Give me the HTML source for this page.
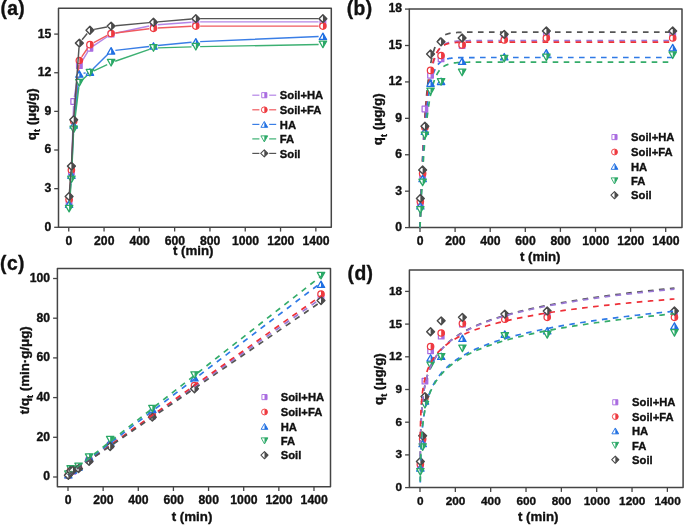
<!DOCTYPE html>
<html><head><meta charset="utf-8"><title>Adsorption kinetics</title>
<style>
html,body{margin:0;padding:0;background:#fff;}
body{width:685px;height:526px;overflow:hidden;font-family:"Liberation Sans",sans-serif;}
svg{display:block;will-change:transform;}
</style></head><body>
<svg width="685" height="526" viewBox="0 0 685 526" font-family='"Liberation Sans", sans-serif' font-weight="bold" fill="#111" stroke-linejoin="round"><style>text{stroke:#111;stroke-width:0.35px;}</style><rect x="58.5" y="8.3" width="272.8" height="219" fill="none" stroke="#444" stroke-width="1.5"/><line x1="68.75" y1="227.3" x2="68.75" y2="231.6" stroke="#444" stroke-width="1.3"/><text x="68.95" y="244.6" font-size="12.2" text-anchor="middle">0</text><line x1="104.05" y1="227.3" x2="104.05" y2="231.6" stroke="#444" stroke-width="1.3"/><text x="104.25" y="244.6" font-size="12.2" text-anchor="middle">200</text><line x1="139.35" y1="227.3" x2="139.35" y2="231.6" stroke="#444" stroke-width="1.3"/><text x="139.55" y="244.6" font-size="12.2" text-anchor="middle">400</text><line x1="174.65" y1="227.3" x2="174.65" y2="231.6" stroke="#444" stroke-width="1.3"/><text x="174.85" y="244.6" font-size="12.2" text-anchor="middle">600</text><line x1="209.95" y1="227.3" x2="209.95" y2="231.6" stroke="#444" stroke-width="1.3"/><text x="210.15" y="244.6" font-size="12.2" text-anchor="middle">800</text><line x1="245.25" y1="227.3" x2="245.25" y2="231.6" stroke="#444" stroke-width="1.3"/><text x="245.45" y="244.6" font-size="12.2" text-anchor="middle">1000</text><line x1="280.55" y1="227.3" x2="280.55" y2="231.6" stroke="#444" stroke-width="1.3"/><text x="280.75" y="244.6" font-size="12.2" text-anchor="middle">1200</text><line x1="315.85" y1="227.3" x2="315.85" y2="231.6" stroke="#444" stroke-width="1.3"/><text x="316.05" y="244.6" font-size="12.2" text-anchor="middle">1400</text><line x1="54.2" y1="227.3" x2="58.5" y2="227.3" stroke="#444" stroke-width="1.3"/><text x="51.2" y="230.7" font-size="12.2" text-anchor="end">0</text><line x1="54.2" y1="188.66" x2="58.5" y2="188.66" stroke="#444" stroke-width="1.3"/><text x="51.2" y="192.06" font-size="12.2" text-anchor="end">3</text><line x1="54.2" y1="150.02" x2="58.5" y2="150.02" stroke="#444" stroke-width="1.3"/><text x="51.2" y="153.42" font-size="12.2" text-anchor="end">6</text><line x1="54.2" y1="111.38" x2="58.5" y2="111.38" stroke="#444" stroke-width="1.3"/><text x="51.2" y="114.78" font-size="12.2" text-anchor="end">9</text><line x1="54.2" y1="72.74" x2="58.5" y2="72.74" stroke="#444" stroke-width="1.3"/><text x="51.2" y="76.14" font-size="12.2" text-anchor="end">12</text><line x1="54.2" y1="34.1" x2="58.5" y2="34.1" stroke="#444" stroke-width="1.3"/><text x="51.2" y="37.5" font-size="12.2" text-anchor="end">15</text><text x="0.4" y="14.5" font-size="19.3" text-anchor="start" letter-spacing="0.4">(a)</text><path d="M69.43 197.9L71.07 176.2M71.54 167.62L73.55 105.76M74.36 97.21L78.67 69.9M81.58 61.98L87.69 51.94M93.5 45.88L107.54 36.49M115.32 33.2L149.26 25.98M157.76 24.76L191.54 22.19M200.13 21.86L318.61 21.86" fill="none" stroke="#b485e6" stroke-width="1.45"/><rect x="66.3" y="199.38" width="5.6" height="5.6" fill="#fff" stroke="#a86ae0" stroke-width="1.25"/><rect x="69.1" y="199.38" width="2.8" height="5.6" fill="#a86ae0"/><rect x="68.6" y="169.12" width="5.6" height="5.6" fill="#fff" stroke="#a86ae0" stroke-width="1.25"/><rect x="71.4" y="169.12" width="2.8" height="5.6" fill="#a86ae0"/><rect x="70.89" y="98.66" width="5.6" height="5.6" fill="#fff" stroke="#a86ae0" stroke-width="1.25"/><rect x="73.69" y="98.66" width="2.8" height="5.6" fill="#a86ae0"/><rect x="76.54" y="62.86" width="5.6" height="5.6" fill="#fff" stroke="#a86ae0" stroke-width="1.25"/><rect x="79.34" y="62.86" width="2.8" height="5.6" fill="#a86ae0"/><rect x="87.13" y="45.47" width="5.6" height="5.6" fill="#fff" stroke="#a86ae0" stroke-width="1.25"/><rect x="89.93" y="45.47" width="2.8" height="5.6" fill="#a86ae0"/><rect x="108.31" y="31.3" width="5.6" height="5.6" fill="#fff" stroke="#a86ae0" stroke-width="1.25"/><rect x="111.11" y="31.3" width="2.8" height="5.6" fill="#a86ae0"/><rect x="150.67" y="22.28" width="5.6" height="5.6" fill="#fff" stroke="#a86ae0" stroke-width="1.25"/><rect x="153.47" y="22.28" width="2.8" height="5.6" fill="#a86ae0"/><rect x="193.03" y="19.06" width="5.6" height="5.6" fill="#fff" stroke="#a86ae0" stroke-width="1.25"/><rect x="195.83" y="19.06" width="2.8" height="5.6" fill="#a86ae0"/><rect x="320.11" y="19.06" width="5.6" height="5.6" fill="#fff" stroke="#a86ae0" stroke-width="1.25"/><rect x="322.91" y="19.06" width="2.8" height="5.6" fill="#a86ae0"/><path d="M69.44 195.32L71.07 174.27M71.6 165.69L73.49 125.34M74.09 116.76L78.94 64.79M81.73 56.93L87.54 48.24M93.73 42.65L107.31 35.47M115.38 32.94L149.2 28.82M157.76 28.08L191.54 26.34M200.13 26.11L318.61 26.11" fill="none" stroke="#f05a5f" stroke-width="1.45"/><circle cx="69.1" cy="199.61" r="3.2" fill="#fff" stroke="#ee3a40" stroke-width="1.25"/><path d="M69.1 196.41A3.2 3.2 0 0 1 69.1 202.81Z" fill="#ee3a40"/><circle cx="71.4" cy="169.98" r="3.2" fill="#fff" stroke="#ee3a40" stroke-width="1.25"/><path d="M71.4 166.78A3.2 3.2 0 0 1 71.4 173.18Z" fill="#ee3a40"/><circle cx="73.69" cy="121.04" r="3.2" fill="#fff" stroke="#ee3a40" stroke-width="1.25"/><path d="M73.69 117.84A3.2 3.2 0 0 1 73.69 124.24Z" fill="#ee3a40"/><circle cx="79.34" cy="60.5" r="3.2" fill="#fff" stroke="#ee3a40" stroke-width="1.25"/><path d="M79.34 57.3A3.2 3.2 0 0 1 79.34 63.7Z" fill="#ee3a40"/><circle cx="89.93" cy="44.66" r="3.2" fill="#fff" stroke="#ee3a40" stroke-width="1.25"/><path d="M89.93 41.46A3.2 3.2 0 0 1 89.93 47.86Z" fill="#ee3a40"/><circle cx="111.11" cy="33.46" r="3.2" fill="#fff" stroke="#ee3a40" stroke-width="1.25"/><path d="M111.11 30.26A3.2 3.2 0 0 1 111.11 36.66Z" fill="#ee3a40"/><circle cx="153.47" cy="28.3" r="3.2" fill="#fff" stroke="#ee3a40" stroke-width="1.25"/><path d="M153.47 25.1A3.2 3.2 0 0 1 153.47 31.5Z" fill="#ee3a40"/><circle cx="195.83" cy="26.11" r="3.2" fill="#fff" stroke="#ee3a40" stroke-width="1.25"/><path d="M195.83 22.91A3.2 3.2 0 0 1 195.83 29.31Z" fill="#ee3a40"/><circle cx="322.91" cy="26.11" r="3.2" fill="#fff" stroke="#ee3a40" stroke-width="1.25"/><path d="M322.91 22.91A3.2 3.2 0 0 1 322.91 29.31Z" fill="#ee3a40"/><path d="M69.44 199.83L71.06 179.42M71.59 170.84L73.5 129.2M74.17 120.63L78.87 78.3M83.57 73.26L85.7 72.87M92.97 69.05L108.07 53.89M115.38 50.35L149.2 46.44M157.75 45.53L191.55 42.24M200.13 41.64L318.61 36.48" fill="none" stroke="#3a7ee6" stroke-width="1.45"/><path d="M65.4 207.32L69.1 200.92L72.8 207.32Z" fill="#fff" stroke="#1f6fe2" stroke-width="1.25" stroke-linejoin="round"/><path d="M69.1 200.92L72.8 207.32L69.1 207.32Z" fill="#1f6fe2"/><path d="M67.7 178.34L71.4 171.94L75.1 178.34Z" fill="#fff" stroke="#1f6fe2" stroke-width="1.25" stroke-linejoin="round"/><path d="M71.4 171.94L75.1 178.34L71.4 178.34Z" fill="#1f6fe2"/><path d="M69.99 128.1L73.69 121.7L77.39 128.1Z" fill="#fff" stroke="#1f6fe2" stroke-width="1.25" stroke-linejoin="round"/><path d="M73.69 121.7L77.39 128.1L73.69 128.1Z" fill="#1f6fe2"/><path d="M75.64 77.23L79.34 70.83L83.04 77.23Z" fill="#fff" stroke="#1f6fe2" stroke-width="1.25" stroke-linejoin="round"/><path d="M79.34 70.83L83.04 77.23L79.34 77.23Z" fill="#1f6fe2"/><path d="M86.23 75.3L89.93 68.9L93.63 75.3Z" fill="#fff" stroke="#1f6fe2" stroke-width="1.25" stroke-linejoin="round"/><path d="M89.93 68.9L93.63 75.3L89.93 75.3Z" fill="#1f6fe2"/><path d="M107.41 54.04L111.11 47.64L114.81 54.04Z" fill="#fff" stroke="#1f6fe2" stroke-width="1.25" stroke-linejoin="round"/><path d="M111.11 47.64L114.81 54.04L111.11 54.04Z" fill="#1f6fe2"/><path d="M149.77 49.15L153.47 42.75L157.17 49.15Z" fill="#fff" stroke="#1f6fe2" stroke-width="1.25" stroke-linejoin="round"/><path d="M153.47 42.75L157.17 49.15L153.47 49.15Z" fill="#1f6fe2"/><path d="M192.13 45.03L195.83 38.63L199.53 45.03Z" fill="#fff" stroke="#1f6fe2" stroke-width="1.25" stroke-linejoin="round"/><path d="M195.83 38.63L199.53 45.03L195.83 45.03Z" fill="#1f6fe2"/><path d="M319.21 39.49L322.91 33.09L326.61 39.49Z" fill="#fff" stroke="#1f6fe2" stroke-width="1.25" stroke-linejoin="round"/><path d="M322.91 33.09L326.61 39.49L322.91 39.49Z" fill="#1f6fe2"/><path d="M69.44 204.34L71.06 183.67M71.59 175.09L73.49 133.71M74.21 125.14L78.82 87.06M82.46 79.83L86.81 75.7M93.82 70.9L107.22 64.54M115.17 61.29L149.41 49.42M157.77 47.88L191.53 46.85M200.13 46.64L318.61 44.48" fill="none" stroke="#3cb072" stroke-width="1.45"/><path d="M65.4 205.32L69.1 211.92L72.8 205.32Z" fill="#fff" stroke="#2aa866" stroke-width="1.25" stroke-linejoin="round"/><path d="M69.1 211.92L72.8 205.32L69.1 205.32Z" fill="#2aa866"/><path d="M67.7 176.09L71.4 182.69L75.1 176.09Z" fill="#fff" stroke="#2aa866" stroke-width="1.25" stroke-linejoin="round"/><path d="M71.4 182.69L75.1 176.09L71.4 176.09Z" fill="#2aa866"/><path d="M69.99 126.11L73.69 132.71L77.39 126.11Z" fill="#fff" stroke="#2aa866" stroke-width="1.25" stroke-linejoin="round"/><path d="M73.69 132.71L77.39 126.11L73.69 126.11Z" fill="#2aa866"/><path d="M75.64 79.49L79.34 86.09L83.04 79.49Z" fill="#fff" stroke="#2aa866" stroke-width="1.25" stroke-linejoin="round"/><path d="M79.34 86.09L83.04 79.49L79.34 79.49Z" fill="#2aa866"/><path d="M86.23 69.44L89.93 76.04L93.63 69.44Z" fill="#fff" stroke="#2aa866" stroke-width="1.25" stroke-linejoin="round"/><path d="M89.93 76.04L93.63 69.44L89.93 69.44Z" fill="#2aa866"/><path d="M107.41 59.39L111.11 65.99L114.81 59.39Z" fill="#fff" stroke="#2aa866" stroke-width="1.25" stroke-linejoin="round"/><path d="M111.11 65.99L114.81 59.39L111.11 59.39Z" fill="#2aa866"/><path d="M149.77 44.71L153.47 51.31L157.17 44.71Z" fill="#fff" stroke="#2aa866" stroke-width="1.25" stroke-linejoin="round"/><path d="M153.47 51.31L157.17 44.71L153.47 44.71Z" fill="#2aa866"/><path d="M192.13 43.42L195.83 50.02L199.53 43.42Z" fill="#fff" stroke="#2aa866" stroke-width="1.25" stroke-linejoin="round"/><path d="M195.83 50.02L199.53 43.42L195.83 43.42Z" fill="#2aa866"/><path d="M319.21 41.1L322.91 47.7L326.61 41.1Z" fill="#fff" stroke="#2aa866" stroke-width="1.25" stroke-linejoin="round"/><path d="M322.91 47.7L326.61 41.1L322.91 41.1Z" fill="#2aa866"/><path d="M69.43 192.1L71.07 170.41M71.61 161.83L73.48 124.05M74.01 115.46L79.02 47.4M82.07 39.79L87.2 33.56M94.15 29.41L106.89 26.94M115.39 25.72L149.19 22.64M157.75 21.89L191.55 19.01M200.13 18.64L318.61 18.64" fill="none" stroke="#555555" stroke-width="1.45"/><path d="M69.1 192.49L73 196.39L69.1 200.29L65.2 196.39Z" fill="#fff" stroke="#4a4a4a" stroke-width="1.4375" stroke-linejoin="round"/><path d="M69.1 192.49L73 196.39L69.1 200.29Z" fill="#4a4a4a"/><path d="M71.4 162.22L75.3 166.12L71.4 170.02L67.5 166.12Z" fill="#fff" stroke="#4a4a4a" stroke-width="1.4375" stroke-linejoin="round"/><path d="M71.4 162.22L75.3 166.12L71.4 170.02Z" fill="#4a4a4a"/><path d="M73.69 115.85L77.59 119.75L73.69 123.65L69.79 119.75Z" fill="#fff" stroke="#4a4a4a" stroke-width="1.4375" stroke-linejoin="round"/><path d="M73.69 115.85L77.59 119.75L73.69 123.65Z" fill="#4a4a4a"/><path d="M79.34 39.22L83.24 43.12L79.34 47.02L75.44 43.12Z" fill="#fff" stroke="#4a4a4a" stroke-width="1.4375" stroke-linejoin="round"/><path d="M79.34 39.22L83.24 43.12L79.34 47.02Z" fill="#4a4a4a"/><path d="M89.93 26.34L93.83 30.24L89.93 34.14L86.03 30.24Z" fill="#fff" stroke="#4a4a4a" stroke-width="1.4375" stroke-linejoin="round"/><path d="M89.93 26.34L93.83 30.24L89.93 34.14Z" fill="#4a4a4a"/><path d="M111.11 22.21L115.01 26.11L111.11 30.01L107.21 26.11Z" fill="#fff" stroke="#4a4a4a" stroke-width="1.4375" stroke-linejoin="round"/><path d="M111.11 22.21L115.01 26.11L111.11 30.01Z" fill="#4a4a4a"/><path d="M153.47 18.35L157.37 22.25L153.47 26.15L149.57 22.25Z" fill="#fff" stroke="#4a4a4a" stroke-width="1.4375" stroke-linejoin="round"/><path d="M153.47 18.35L157.37 22.25L153.47 26.15Z" fill="#4a4a4a"/><path d="M195.83 14.74L199.73 18.64L195.83 22.54L191.93 18.64Z" fill="#fff" stroke="#4a4a4a" stroke-width="1.4375" stroke-linejoin="round"/><path d="M195.83 14.74L199.73 18.64L195.83 22.54Z" fill="#4a4a4a"/><path d="M322.91 14.74L326.81 18.64L322.91 22.54L319.01 18.64Z" fill="#fff" stroke="#4a4a4a" stroke-width="1.4375" stroke-linejoin="round"/><path d="M322.91 14.74L326.81 18.64L322.91 22.54Z" fill="#4a4a4a"/><line x1="252.3" y1="95.2" x2="259.4" y2="95.2" stroke="#b485e6" stroke-width="1.2"/><line x1="269.2" y1="95.2" x2="276.2" y2="95.2" stroke="#b485e6" stroke-width="1.2"/><rect x="261.72" y="92.62" width="5.15" height="5.15" fill="#fff" stroke="#a86ae0" stroke-width="0.9"/><rect x="264.3" y="92.62" width="2.58" height="5.15" fill="#a86ae0"/><text x="279.8" y="99.3" font-size="11.25" text-anchor="start">Soil+HA</text><line x1="252.3" y1="109.8" x2="259.4" y2="109.8" stroke="#f05a5f" stroke-width="1.2"/><line x1="269.2" y1="109.8" x2="276.2" y2="109.8" stroke="#f05a5f" stroke-width="1.2"/><circle cx="264.3" cy="109.8" r="2.94" fill="#fff" stroke="#ee3a40" stroke-width="0.9"/><path d="M264.3 106.86A2.94 2.94 0 0 1 264.3 112.74Z" fill="#ee3a40"/><text x="279.8" y="113.9" font-size="11.25" text-anchor="start">Soil+FA</text><line x1="252.3" y1="124.4" x2="259.4" y2="124.4" stroke="#3a7ee6" stroke-width="1.2"/><line x1="269.2" y1="124.4" x2="276.2" y2="124.4" stroke="#3a7ee6" stroke-width="1.2"/><path d="M260.9 127.34L264.3 121.46L267.7 127.34Z" fill="#fff" stroke="#1f6fe2" stroke-width="0.9" stroke-linejoin="round"/><path d="M264.3 121.46L267.7 127.34L264.3 127.34Z" fill="#1f6fe2"/><text x="279.8" y="128.5" font-size="11.25" text-anchor="start">HA</text><line x1="252.3" y1="138.9" x2="259.4" y2="138.9" stroke="#3cb072" stroke-width="1.2"/><line x1="269.2" y1="138.9" x2="276.2" y2="138.9" stroke="#3cb072" stroke-width="1.2"/><path d="M260.9 135.86L264.3 141.94L267.7 135.86Z" fill="#fff" stroke="#2aa866" stroke-width="0.9" stroke-linejoin="round"/><path d="M264.3 141.94L267.7 135.86L264.3 135.86Z" fill="#2aa866"/><text x="279.8" y="143" font-size="11.25" text-anchor="start">FA</text><line x1="252.3" y1="153.4" x2="259.4" y2="153.4" stroke="#555555" stroke-width="1.2"/><line x1="269.2" y1="153.4" x2="276.2" y2="153.4" stroke="#555555" stroke-width="1.2"/><path d="M264.3 149.81L267.89 153.4L264.3 156.99L260.71 153.4Z" fill="#fff" stroke="#4a4a4a" stroke-width="1.035" stroke-linejoin="round"/><path d="M264.3 149.81L267.89 153.4L264.3 156.99Z" fill="#4a4a4a"/><text x="279.8" y="157.5" font-size="11.25" text-anchor="start">Soil</text><text x="193.2" y="255.3" font-size="13.3" text-anchor="middle">t (min)</text><text transform="translate(36.1 114.3) rotate(-90)" font-size="13.3" text-anchor="middle">q<tspan font-size="9" dy="4.2">t</tspan><tspan dy="-4.2"> (μg/g)</tspan></text><rect x="409.3" y="9" width="272.7" height="218.6" fill="none" stroke="#444" stroke-width="1.5"/><line x1="420" y1="227.6" x2="420" y2="231.9" stroke="#444" stroke-width="1.3"/><text x="420.2" y="244.9" font-size="12.2" text-anchor="middle">0</text><line x1="455.1" y1="227.6" x2="455.1" y2="231.9" stroke="#444" stroke-width="1.3"/><text x="455.3" y="244.9" font-size="12.2" text-anchor="middle">200</text><line x1="490.2" y1="227.6" x2="490.2" y2="231.9" stroke="#444" stroke-width="1.3"/><text x="490.4" y="244.9" font-size="12.2" text-anchor="middle">400</text><line x1="525.3" y1="227.6" x2="525.3" y2="231.9" stroke="#444" stroke-width="1.3"/><text x="525.5" y="244.9" font-size="12.2" text-anchor="middle">600</text><line x1="560.4" y1="227.6" x2="560.4" y2="231.9" stroke="#444" stroke-width="1.3"/><text x="560.6" y="244.9" font-size="12.2" text-anchor="middle">800</text><line x1="595.5" y1="227.6" x2="595.5" y2="231.9" stroke="#444" stroke-width="1.3"/><text x="595.7" y="244.9" font-size="12.2" text-anchor="middle">1000</text><line x1="630.6" y1="227.6" x2="630.6" y2="231.9" stroke="#444" stroke-width="1.3"/><text x="630.8" y="244.9" font-size="12.2" text-anchor="middle">1200</text><line x1="665.7" y1="227.6" x2="665.7" y2="231.9" stroke="#444" stroke-width="1.3"/><text x="665.9" y="244.9" font-size="12.2" text-anchor="middle">1400</text><line x1="405" y1="227.6" x2="409.3" y2="227.6" stroke="#444" stroke-width="1.3"/><text x="402" y="231" font-size="12.2" text-anchor="end">0</text><line x1="405" y1="191.18" x2="409.3" y2="191.18" stroke="#444" stroke-width="1.3"/><text x="402" y="194.58" font-size="12.2" text-anchor="end">3</text><line x1="405" y1="154.76" x2="409.3" y2="154.76" stroke="#444" stroke-width="1.3"/><text x="402" y="158.16" font-size="12.2" text-anchor="end">6</text><line x1="405" y1="118.34" x2="409.3" y2="118.34" stroke="#444" stroke-width="1.3"/><text x="402" y="121.74" font-size="12.2" text-anchor="end">9</text><line x1="405" y1="81.92" x2="409.3" y2="81.92" stroke="#444" stroke-width="1.3"/><text x="402" y="85.32" font-size="12.2" text-anchor="end">12</text><line x1="405" y1="45.5" x2="409.3" y2="45.5" stroke="#444" stroke-width="1.3"/><text x="402" y="48.9" font-size="12.2" text-anchor="end">15</text><line x1="405" y1="9.08" x2="409.3" y2="9.08" stroke="#444" stroke-width="1.3"/><text x="402" y="12.48" font-size="12.2" text-anchor="end">18</text><text x="346.7" y="15.3" font-size="19.3" text-anchor="start" letter-spacing="0.4">(b)</text><path d="M420 227.6 L420.35 216.22 L420.7 205.5 L421.05 195.4 L421.4 185.9 L421.75 176.94 L422.11 168.51 L422.46 160.57 L422.81 153.09 L423.16 146.05 L423.51 139.41 L423.86 133.17 L424.21 127.28 L424.56 121.74 L424.91 116.53 L425.26 111.61 L425.62 106.98 L425.97 102.63 L426.32 98.52 L426.67 94.66 L427.02 91.02 L427.37 87.59 L427.72 84.36 L428.07 81.32 L428.42 78.45 L428.77 75.76 L429.13 73.22 L429.48 70.83 L429.83 68.57 L430.18 66.45 L430.53 64.45 L430.88 62.57 L431.23 60.8 L431.58 59.13 L431.93 57.56 L432.29 56.08 L432.64 54.69 L432.99 53.37 L433.34 52.14 L433.69 50.97 L434.04 49.88 L434.39 48.84 L434.74 47.87 L435.09 46.96 L435.44 46.09 L435.8 45.28 L436.15 44.52 L436.5 43.8 L436.85 43.12 L437.2 42.48 L437.55 41.88 L437.9 41.31 L438.25 40.78 L438.6 40.27 L438.95 39.8 L439.31 39.35 L439.66 38.94 L440.01 38.54 L440.36 38.17 L440.71 37.82 L441.06 37.49 L441.41 37.18 L441.76 36.88 L442.11 36.61 L442.46 36.35 L442.81 36.1 L443.17 35.87 L443.52 35.65 L443.87 35.45 L444.22 35.26 L444.57 35.08 L444.92 34.91 L445.27 34.75 L445.62 34.59 L445.97 34.45 L446.32 34.32 L446.68 34.19 L447.03 34.07 L447.38 33.96 L447.73 33.85 L448.08 33.75 L448.43 33.66 L448.78 33.57 L449.13 33.49 L449.48 33.41 L449.83 33.34 L450.19 33.27 L450.54 33.2 L450.89 33.14 L451.24 33.08 L451.59 33.03 L451.94 32.98 L452.29 32.93 L452.64 32.88 L452.99 32.84 L453.35 32.8 L453.7 32.76 L454.05 32.73 L454.4 32.69 L454.75 32.66 L455.1 32.63 L455.45 32.6 L455.8 32.58 L456.15 32.55 L456.5 32.53 L456.86 32.5 L457.21 32.48 L457.56 32.46 L457.91 32.45 L458.26 32.43 L458.61 32.41 L458.96 32.4 L459.31 32.38 L459.66 32.37 L460.01 32.36 L460.37 32.34 L460.72 32.33 L461.07 32.32 L461.42 32.31 L461.77 32.3 L462.12 32.29 L462.47 32.28 L462.82 32.28 L463.17 32.27 L463.52 32.26 L463.88 32.25 L464.23 32.25 L464.58 32.24 L464.93 32.24 L465.28 32.23 L465.63 32.23 L465.98 32.22 L466.33 32.22 L466.68 32.21 L467.03 32.21 L467.38 32.21 L467.74 32.2 L468.09 32.2 L468.44 32.2 L468.79 32.19 L469.14 32.19 L469.49 32.19 L469.84 32.18 L470.19 32.18 L470.54 32.18 L470.89 32.18 L471.25 32.18 L471.6 32.17 L471.95 32.17 L472.3 32.17 L472.65 32.17 L476.16 32.16 L479.67 32.15 L483.18 32.15 L486.69 32.15 L490.2 32.15 L493.71 32.15 L497.22 32.15 L500.73 32.15 L504.24 32.15 L507.75 32.15 L511.26 32.15 L514.77 32.15 L518.28 32.15 L521.79 32.15 L525.3 32.15 L528.81 32.15 L532.32 32.15 L535.83 32.15 L539.34 32.15 L542.85 32.15 L546.36 32.15 L549.87 32.15 L553.38 32.15 L556.89 32.15 L560.4 32.15 L563.91 32.15 L567.42 32.15 L570.93 32.15 L574.44 32.15 L577.95 32.15 L581.46 32.15 L584.97 32.15 L588.48 32.15 L591.99 32.15 L595.5 32.15 L599.01 32.15 L602.52 32.15 L606.03 32.15 L609.54 32.15 L613.05 32.15 L616.56 32.15 L620.07 32.15 L623.58 32.15 L627.09 32.15 L630.6 32.15 L634.11 32.15 L637.62 32.15 L641.13 32.15 L644.64 32.15 L648.15 32.15 L651.66 32.15 L655.17 32.15 L658.68 32.15 L662.19 32.15 L665.7 32.15 L669.21 32.15 L672.72 32.15" fill="none" stroke="#555555" stroke-width="1.7" stroke-dasharray="5.6 5.4"/><path d="M420 227.6 L420.35 217.42 L420.7 207.79 L421.05 198.69 L421.4 190.08 L421.75 181.94 L422.11 174.25 L422.46 166.97 L422.81 160.09 L423.16 153.59 L423.51 147.43 L423.86 141.62 L424.21 136.12 L424.56 130.92 L424.91 126 L425.26 121.35 L425.62 116.96 L425.97 112.8 L426.32 108.87 L426.67 105.16 L427.02 101.64 L427.37 98.32 L427.72 95.18 L428.07 92.21 L428.42 89.4 L428.77 86.75 L429.13 84.24 L429.48 81.86 L429.83 79.62 L430.18 77.49 L430.53 75.49 L430.88 73.59 L431.23 71.8 L431.58 70.1 L431.93 68.5 L432.29 66.98 L432.64 65.54 L432.99 64.19 L433.34 62.91 L433.69 61.69 L434.04 60.55 L434.39 59.46 L434.74 58.44 L435.09 57.47 L435.44 56.55 L435.8 55.69 L436.15 54.87 L436.5 54.09 L436.85 53.36 L437.2 52.67 L437.55 52.01 L437.9 51.39 L438.25 50.81 L438.6 50.25 L438.95 49.73 L439.31 49.24 L439.66 48.77 L440.01 48.33 L440.36 47.91 L440.71 47.51 L441.06 47.14 L441.41 46.78 L441.76 46.45 L442.11 46.13 L442.46 45.83 L442.81 45.55 L443.17 45.28 L443.52 45.03 L443.87 44.79 L444.22 44.57 L444.57 44.35 L444.92 44.15 L445.27 43.96 L445.62 43.78 L445.97 43.61 L446.32 43.45 L446.68 43.29 L447.03 43.15 L447.38 43.01 L447.73 42.88 L448.08 42.76 L448.43 42.65 L448.78 42.54 L449.13 42.44 L449.48 42.34 L449.83 42.25 L450.19 42.16 L450.54 42.08 L450.89 42 L451.24 41.92 L451.59 41.85 L451.94 41.79 L452.29 41.73 L452.64 41.67 L452.99 41.61 L453.35 41.56 L453.7 41.51 L454.05 41.46 L454.4 41.42 L454.75 41.38 L455.1 41.34 L455.45 41.3 L455.8 41.26 L456.15 41.23 L456.5 41.2 L456.86 41.17 L457.21 41.14 L457.56 41.11 L457.91 41.09 L458.26 41.06 L458.61 41.04 L458.96 41.02 L459.31 41 L459.66 40.98 L460.01 40.96 L460.37 40.94 L460.72 40.93 L461.07 40.91 L461.42 40.9 L461.77 40.88 L462.12 40.87 L462.47 40.86 L462.82 40.85 L463.17 40.83 L463.52 40.82 L463.88 40.81 L464.23 40.81 L464.58 40.8 L464.93 40.79 L465.28 40.78 L465.63 40.77 L465.98 40.77 L466.33 40.76 L466.68 40.75 L467.03 40.75 L467.38 40.74 L467.74 40.74 L468.09 40.73 L468.44 40.73 L468.79 40.72 L469.14 40.72 L469.49 40.71 L469.84 40.71 L470.19 40.71 L470.54 40.7 L470.89 40.7 L471.25 40.7 L471.6 40.69 L471.95 40.69 L472.3 40.69 L472.65 40.69 L476.16 40.67 L479.67 40.66 L483.18 40.65 L486.69 40.65 L490.2 40.65 L493.71 40.65 L497.22 40.64 L500.73 40.64 L504.24 40.64 L507.75 40.64 L511.26 40.64 L514.77 40.64 L518.28 40.64 L521.79 40.64 L525.3 40.64 L528.81 40.64 L532.32 40.64 L535.83 40.64 L539.34 40.64 L542.85 40.64 L546.36 40.64 L549.87 40.64 L553.38 40.64 L556.89 40.64 L560.4 40.64 L563.91 40.64 L567.42 40.64 L570.93 40.64 L574.44 40.64 L577.95 40.64 L581.46 40.64 L584.97 40.64 L588.48 40.64 L591.99 40.64 L595.5 40.64 L599.01 40.64 L602.52 40.64 L606.03 40.64 L609.54 40.64 L613.05 40.64 L616.56 40.64 L620.07 40.64 L623.58 40.64 L627.09 40.64 L630.6 40.64 L634.11 40.64 L637.62 40.64 L641.13 40.64 L644.64 40.64 L648.15 40.64 L651.66 40.64 L655.17 40.64 L658.68 40.64 L662.19 40.64 L665.7 40.64 L669.21 40.64 L672.72 40.64" fill="none" stroke="#9a78d6" stroke-width="1.7" stroke-dasharray="5.6 5.4"/><path d="M420 227.6 L420.35 216.8 L420.7 206.62 L421.05 197.04 L421.4 188.02 L421.75 179.52 L422.11 171.52 L422.46 163.98 L422.81 156.88 L423.16 150.2 L423.51 143.9 L423.86 137.98 L424.21 132.39 L424.56 127.13 L424.91 122.18 L425.26 117.52 L425.62 113.13 L425.97 108.99 L426.32 105.1 L426.67 101.43 L427.02 97.97 L427.37 94.72 L427.72 91.65 L428.07 88.77 L428.42 86.05 L428.77 83.49 L429.13 81.08 L429.48 78.81 L429.83 76.67 L430.18 74.66 L430.53 72.76 L430.88 70.98 L431.23 69.3 L431.58 67.71 L431.93 66.22 L432.29 64.82 L432.64 63.49 L432.99 62.25 L433.34 61.07 L433.69 59.97 L434.04 58.93 L434.39 57.95 L434.74 57.03 L435.09 56.16 L435.44 55.34 L435.8 54.57 L436.15 53.84 L436.5 53.16 L436.85 52.51 L437.2 51.91 L437.55 51.34 L437.9 50.8 L438.25 50.29 L438.6 49.81 L438.95 49.37 L439.31 48.94 L439.66 48.54 L440.01 48.17 L440.36 47.82 L440.71 47.48 L441.06 47.17 L441.41 46.87 L441.76 46.6 L442.11 46.33 L442.46 46.09 L442.81 45.86 L443.17 45.64 L443.52 45.43 L443.87 45.24 L444.22 45.05 L444.57 44.88 L444.92 44.72 L445.27 44.57 L445.62 44.42 L445.97 44.29 L446.32 44.16 L446.68 44.04 L447.03 43.93 L447.38 43.82 L447.73 43.72 L448.08 43.63 L448.43 43.54 L448.78 43.45 L449.13 43.38 L449.48 43.3 L449.83 43.23 L450.19 43.17 L450.54 43.1 L450.89 43.05 L451.24 42.99 L451.59 42.94 L451.94 42.89 L452.29 42.84 L452.64 42.8 L452.99 42.76 L453.35 42.72 L453.7 42.69 L454.05 42.65 L454.4 42.62 L454.75 42.59 L455.1 42.56 L455.45 42.53 L455.8 42.51 L456.15 42.48 L456.5 42.46 L456.86 42.44 L457.21 42.42 L457.56 42.4 L457.91 42.39 L458.26 42.37 L458.61 42.35 L458.96 42.34 L459.31 42.32 L459.66 42.31 L460.01 42.3 L460.37 42.29 L460.72 42.28 L461.07 42.27 L461.42 42.26 L461.77 42.25 L462.12 42.24 L462.47 42.23 L462.82 42.22 L463.17 42.22 L463.52 42.21 L463.88 42.2 L464.23 42.2 L464.58 42.19 L464.93 42.19 L465.28 42.18 L465.63 42.18 L465.98 42.17 L466.33 42.17 L466.68 42.16 L467.03 42.16 L467.38 42.16 L467.74 42.15 L468.09 42.15 L468.44 42.15 L468.79 42.15 L469.14 42.14 L469.49 42.14 L469.84 42.14 L470.19 42.14 L470.54 42.13 L470.89 42.13 L471.25 42.13 L471.6 42.13 L471.95 42.13 L472.3 42.13 L472.65 42.12 L476.16 42.11 L479.67 42.11 L483.18 42.1 L486.69 42.1 L490.2 42.1 L493.71 42.1 L497.22 42.1 L500.73 42.1 L504.24 42.1 L507.75 42.1 L511.26 42.1 L514.77 42.1 L518.28 42.1 L521.79 42.1 L525.3 42.1 L528.81 42.1 L532.32 42.1 L535.83 42.1 L539.34 42.1 L542.85 42.1 L546.36 42.1 L549.87 42.1 L553.38 42.1 L556.89 42.1 L560.4 42.1 L563.91 42.1 L567.42 42.1 L570.93 42.1 L574.44 42.1 L577.95 42.1 L581.46 42.1 L584.97 42.1 L588.48 42.1 L591.99 42.1 L595.5 42.1 L599.01 42.1 L602.52 42.1 L606.03 42.1 L609.54 42.1 L613.05 42.1 L616.56 42.1 L620.07 42.1 L623.58 42.1 L627.09 42.1 L630.6 42.1 L634.11 42.1 L637.62 42.1 L641.13 42.1 L644.64 42.1 L648.15 42.1 L651.66 42.1 L655.17 42.1 L658.68 42.1 L662.19 42.1 L665.7 42.1 L669.21 42.1 L672.72 42.1" fill="none" stroke="#ee3038" stroke-width="1.7" stroke-dasharray="5.6 5.4"/><path d="M420 227.6 L420.35 217.38 L420.7 207.77 L421.05 198.73 L421.4 190.24 L421.75 182.26 L422.11 174.76 L422.46 167.72 L422.81 161.09 L423.16 154.87 L423.51 149.01 L423.86 143.51 L424.21 138.34 L424.56 133.48 L424.91 128.92 L425.26 124.62 L425.62 120.59 L425.97 116.8 L426.32 113.24 L426.67 109.89 L427.02 106.74 L427.37 103.78 L427.72 101 L428.07 98.38 L428.42 95.93 L428.77 93.62 L429.13 91.45 L429.48 89.41 L429.83 87.49 L430.18 85.69 L430.53 84 L430.88 82.4 L431.23 80.91 L431.58 79.5 L431.93 78.18 L432.29 76.94 L432.64 75.77 L432.99 74.67 L433.34 73.64 L433.69 72.67 L434.04 71.76 L434.39 70.91 L434.74 70.1 L435.09 69.34 L435.44 68.63 L435.8 67.97 L436.15 67.34 L436.5 66.75 L436.85 66.19 L437.2 65.67 L437.55 65.18 L437.9 64.72 L438.25 64.29 L438.6 63.88 L438.95 63.5 L439.31 63.14 L439.66 62.8 L440.01 62.48 L440.36 62.18 L440.71 61.9 L441.06 61.64 L441.41 61.39 L441.76 61.16 L442.11 60.94 L442.46 60.74 L442.81 60.54 L443.17 60.36 L443.52 60.19 L443.87 60.03 L444.22 59.88 L444.57 59.74 L444.92 59.6 L445.27 59.48 L445.62 59.36 L445.97 59.25 L446.32 59.14 L446.68 59.05 L447.03 58.96 L447.38 58.87 L447.73 58.79 L448.08 58.71 L448.43 58.64 L448.78 58.57 L449.13 58.51 L449.48 58.45 L449.83 58.39 L450.19 58.34 L450.54 58.29 L450.89 58.24 L451.24 58.2 L451.59 58.16 L451.94 58.12 L452.29 58.09 L452.64 58.05 L452.99 58.02 L453.35 57.99 L453.7 57.96 L454.05 57.93 L454.4 57.91 L454.75 57.89 L455.1 57.86 L455.45 57.84 L455.8 57.82 L456.15 57.81 L456.5 57.79 L456.86 57.77 L457.21 57.76 L457.56 57.74 L457.91 57.73 L458.26 57.72 L458.61 57.7 L458.96 57.69 L459.31 57.68 L459.66 57.67 L460.01 57.66 L460.37 57.65 L460.72 57.65 L461.07 57.64 L461.42 57.63 L461.77 57.62 L462.12 57.62 L462.47 57.61 L462.82 57.61 L463.17 57.6 L463.52 57.6 L463.88 57.59 L464.23 57.59 L464.58 57.58 L464.93 57.58 L465.28 57.58 L465.63 57.57 L465.98 57.57 L466.33 57.57 L466.68 57.56 L467.03 57.56 L467.38 57.56 L467.74 57.56 L468.09 57.55 L468.44 57.55 L468.79 57.55 L469.14 57.55 L469.49 57.55 L469.84 57.54 L470.19 57.54 L470.54 57.54 L470.89 57.54 L471.25 57.54 L471.6 57.54 L471.95 57.54 L472.3 57.54 L472.65 57.53 L476.16 57.53 L479.67 57.52 L483.18 57.52 L486.69 57.52 L490.2 57.52 L493.71 57.52 L497.22 57.52 L500.73 57.52 L504.24 57.52 L507.75 57.52 L511.26 57.52 L514.77 57.52 L518.28 57.52 L521.79 57.52 L525.3 57.52 L528.81 57.52 L532.32 57.52 L535.83 57.52 L539.34 57.52 L542.85 57.52 L546.36 57.52 L549.87 57.52 L553.38 57.52 L556.89 57.52 L560.4 57.52 L563.91 57.52 L567.42 57.52 L570.93 57.52 L574.44 57.52 L577.95 57.52 L581.46 57.52 L584.97 57.52 L588.48 57.52 L591.99 57.52 L595.5 57.52 L599.01 57.52 L602.52 57.52 L606.03 57.52 L609.54 57.52 L613.05 57.52 L616.56 57.52 L620.07 57.52 L623.58 57.52 L627.09 57.52 L630.6 57.52 L634.11 57.52 L637.62 57.52 L641.13 57.52 L644.64 57.52 L648.15 57.52 L651.66 57.52 L655.17 57.52 L658.68 57.52 L662.19 57.52 L665.7 57.52 L669.21 57.52 L672.72 57.52" fill="none" stroke="#2f7ae6" stroke-width="1.7" stroke-dasharray="5.6 5.4"/><path d="M420 227.6 L420.35 218.9 L420.7 210.66 L421.05 202.85 L421.4 195.46 L421.75 188.45 L422.11 181.81 L422.46 175.52 L422.81 169.56 L423.16 163.91 L423.51 158.56 L423.86 153.49 L424.21 148.69 L424.56 144.14 L424.91 139.83 L425.26 135.74 L425.62 131.87 L425.97 128.21 L426.32 124.73 L426.67 121.44 L427.02 118.32 L427.37 115.37 L427.72 112.57 L428.07 109.92 L428.42 107.41 L428.77 105.03 L429.13 102.77 L429.48 100.64 L429.83 98.61 L430.18 96.69 L430.53 94.88 L430.88 93.16 L431.23 91.53 L431.58 89.98 L431.93 88.52 L432.29 87.13 L432.64 85.82 L432.99 84.57 L433.34 83.39 L433.69 82.27 L434.04 81.21 L434.39 80.21 L434.74 79.26 L435.09 78.36 L435.44 77.51 L435.8 76.7 L436.15 75.93 L436.5 75.21 L436.85 74.52 L437.2 73.87 L437.55 73.25 L437.9 72.67 L438.25 72.11 L438.6 71.59 L438.95 71.09 L439.31 70.62 L439.66 70.17 L440.01 69.75 L440.36 69.35 L440.71 68.97 L441.06 68.61 L441.41 68.27 L441.76 67.95 L442.11 67.64 L442.46 67.35 L442.81 67.08 L443.17 66.82 L443.52 66.57 L443.87 66.34 L444.22 66.12 L444.57 65.91 L444.92 65.71 L445.27 65.52 L445.62 65.34 L445.97 65.17 L446.32 65.01 L446.68 64.86 L447.03 64.72 L447.38 64.58 L447.73 64.45 L448.08 64.33 L448.43 64.22 L448.78 64.11 L449.13 64 L449.48 63.9 L449.83 63.81 L450.19 63.72 L450.54 63.64 L450.89 63.56 L451.24 63.49 L451.59 63.41 L451.94 63.35 L452.29 63.28 L452.64 63.22 L452.99 63.17 L453.35 63.11 L453.7 63.06 L454.05 63.01 L454.4 62.96 L454.75 62.92 L455.1 62.88 L455.45 62.84 L455.8 62.8 L456.15 62.77 L456.5 62.73 L456.86 62.7 L457.21 62.67 L457.56 62.64 L457.91 62.62 L458.26 62.59 L458.61 62.57 L458.96 62.54 L459.31 62.52 L459.66 62.5 L460.01 62.48 L460.37 62.46 L460.72 62.45 L461.07 62.43 L461.42 62.41 L461.77 62.4 L462.12 62.39 L462.47 62.37 L462.82 62.36 L463.17 62.35 L463.52 62.34 L463.88 62.33 L464.23 62.32 L464.58 62.31 L464.93 62.3 L465.28 62.29 L465.63 62.28 L465.98 62.27 L466.33 62.26 L466.68 62.26 L467.03 62.25 L467.38 62.24 L467.74 62.24 L468.09 62.23 L468.44 62.23 L468.79 62.22 L469.14 62.22 L469.49 62.21 L469.84 62.21 L470.19 62.21 L470.54 62.2 L470.89 62.2 L471.25 62.19 L471.6 62.19 L471.95 62.19 L472.3 62.18 L472.65 62.18 L476.16 62.16 L479.67 62.15 L483.18 62.14 L486.69 62.14 L490.2 62.14 L493.71 62.13 L497.22 62.13 L500.73 62.13 L504.24 62.13 L507.75 62.13 L511.26 62.13 L514.77 62.13 L518.28 62.13 L521.79 62.13 L525.3 62.13 L528.81 62.13 L532.32 62.13 L535.83 62.13 L539.34 62.13 L542.85 62.13 L546.36 62.13 L549.87 62.13 L553.38 62.13 L556.89 62.13 L560.4 62.13 L563.91 62.13 L567.42 62.13 L570.93 62.13 L574.44 62.13 L577.95 62.13 L581.46 62.13 L584.97 62.13 L588.48 62.13 L591.99 62.13 L595.5 62.13 L599.01 62.13 L602.52 62.13 L606.03 62.13 L609.54 62.13 L613.05 62.13 L616.56 62.13 L620.07 62.13 L623.58 62.13 L627.09 62.13 L630.6 62.13 L634.11 62.13 L637.62 62.13 L641.13 62.13 L644.64 62.13 L648.15 62.13 L651.66 62.13 L655.17 62.13 L658.68 62.13 L662.19 62.13 L665.7 62.13 L669.21 62.13 L672.72 62.13" fill="none" stroke="#34ac6a" stroke-width="1.7" stroke-dasharray="5.6 5.4"/><rect x="417.55" y="201.13" width="5.6" height="5.6" fill="#fff" stroke="#a86ae0" stroke-width="1.25"/><rect x="420.35" y="201.13" width="2.8" height="5.6" fill="#a86ae0"/><rect x="419.83" y="172.6" width="5.6" height="5.6" fill="#fff" stroke="#a86ae0" stroke-width="1.25"/><rect x="422.63" y="172.6" width="2.8" height="5.6" fill="#a86ae0"/><rect x="422.11" y="106.19" width="5.6" height="5.6" fill="#fff" stroke="#a86ae0" stroke-width="1.25"/><rect x="424.91" y="106.19" width="2.8" height="5.6" fill="#a86ae0"/><rect x="427.73" y="72.44" width="5.6" height="5.6" fill="#fff" stroke="#a86ae0" stroke-width="1.25"/><rect x="430.53" y="72.44" width="2.8" height="5.6" fill="#a86ae0"/><rect x="438.26" y="56.05" width="5.6" height="5.6" fill="#fff" stroke="#a86ae0" stroke-width="1.25"/><rect x="441.06" y="56.05" width="2.8" height="5.6" fill="#a86ae0"/><rect x="459.32" y="42.7" width="5.6" height="5.6" fill="#fff" stroke="#a86ae0" stroke-width="1.25"/><rect x="462.12" y="42.7" width="2.8" height="5.6" fill="#a86ae0"/><rect x="501.44" y="34.2" width="5.6" height="5.6" fill="#fff" stroke="#a86ae0" stroke-width="1.25"/><rect x="504.24" y="34.2" width="2.8" height="5.6" fill="#a86ae0"/><rect x="543.56" y="31.17" width="5.6" height="5.6" fill="#fff" stroke="#a86ae0" stroke-width="1.25"/><rect x="546.36" y="31.17" width="2.8" height="5.6" fill="#a86ae0"/><rect x="669.92" y="31.17" width="5.6" height="5.6" fill="#fff" stroke="#a86ae0" stroke-width="1.25"/><rect x="672.72" y="31.17" width="2.8" height="5.6" fill="#a86ae0"/><circle cx="420.35" cy="201.5" r="3.2" fill="#fff" stroke="#ee3a40" stroke-width="1.25"/><path d="M420.35 198.3A3.2 3.2 0 0 1 420.35 204.7Z" fill="#ee3a40"/><circle cx="422.63" cy="173.58" r="3.2" fill="#fff" stroke="#ee3a40" stroke-width="1.25"/><path d="M422.63 170.38A3.2 3.2 0 0 1 422.63 176.78Z" fill="#ee3a40"/><circle cx="424.91" cy="127.44" r="3.2" fill="#fff" stroke="#ee3a40" stroke-width="1.25"/><path d="M424.91 124.24A3.2 3.2 0 0 1 424.91 130.64Z" fill="#ee3a40"/><circle cx="430.53" cy="70.39" r="3.2" fill="#fff" stroke="#ee3a40" stroke-width="1.25"/><path d="M430.53 67.19A3.2 3.2 0 0 1 430.53 73.59Z" fill="#ee3a40"/><circle cx="441.06" cy="55.45" r="3.2" fill="#fff" stroke="#ee3a40" stroke-width="1.25"/><path d="M441.06 52.25A3.2 3.2 0 0 1 441.06 58.65Z" fill="#ee3a40"/><circle cx="462.12" cy="44.89" r="3.2" fill="#fff" stroke="#ee3a40" stroke-width="1.25"/><path d="M462.12 41.69A3.2 3.2 0 0 1 462.12 48.09Z" fill="#ee3a40"/><circle cx="504.24" cy="40.04" r="3.2" fill="#fff" stroke="#ee3a40" stroke-width="1.25"/><path d="M504.24 36.84A3.2 3.2 0 0 1 504.24 43.24Z" fill="#ee3a40"/><circle cx="546.36" cy="37.97" r="3.2" fill="#fff" stroke="#ee3a40" stroke-width="1.25"/><path d="M546.36 34.77A3.2 3.2 0 0 1 546.36 41.17Z" fill="#ee3a40"/><circle cx="672.72" cy="37.97" r="3.2" fill="#fff" stroke="#ee3a40" stroke-width="1.25"/><path d="M672.72 34.77A3.2 3.2 0 0 1 672.72 41.17Z" fill="#ee3a40"/><path d="M416.65 208.95L420.35 202.55L424.05 208.95Z" fill="#fff" stroke="#1f6fe2" stroke-width="1.25" stroke-linejoin="round"/><path d="M420.35 202.55L424.05 208.95L420.35 208.95Z" fill="#1f6fe2"/><path d="M418.93 181.63L422.63 175.23L426.33 181.63Z" fill="#fff" stroke="#1f6fe2" stroke-width="1.25" stroke-linejoin="round"/><path d="M422.63 175.23L426.33 181.63L422.63 181.63Z" fill="#1f6fe2"/><path d="M421.21 134.29L424.91 127.89L428.61 134.29Z" fill="#fff" stroke="#1f6fe2" stroke-width="1.25" stroke-linejoin="round"/><path d="M424.91 127.89L428.61 134.29L424.91 134.29Z" fill="#1f6fe2"/><path d="M426.83 86.33L430.53 79.93L434.23 86.33Z" fill="#fff" stroke="#1f6fe2" stroke-width="1.25" stroke-linejoin="round"/><path d="M430.53 79.93L434.23 86.33L430.53 86.33Z" fill="#1f6fe2"/><path d="M437.36 84.51L441.06 78.11L444.76 84.51Z" fill="#fff" stroke="#1f6fe2" stroke-width="1.25" stroke-linejoin="round"/><path d="M441.06 78.11L444.76 84.51L441.06 84.51Z" fill="#1f6fe2"/><path d="M458.42 64.48L462.12 58.08L465.82 64.48Z" fill="#fff" stroke="#1f6fe2" stroke-width="1.25" stroke-linejoin="round"/><path d="M462.12 58.08L465.82 64.48L462.12 64.48Z" fill="#1f6fe2"/><path d="M500.54 59.87L504.24 53.47L507.94 59.87Z" fill="#fff" stroke="#1f6fe2" stroke-width="1.25" stroke-linejoin="round"/><path d="M504.24 53.47L507.94 59.87L504.24 59.87Z" fill="#1f6fe2"/><path d="M542.66 55.98L546.36 49.58L550.06 55.98Z" fill="#fff" stroke="#1f6fe2" stroke-width="1.25" stroke-linejoin="round"/><path d="M546.36 49.58L550.06 55.98L546.36 55.98Z" fill="#1f6fe2"/><path d="M669.02 50.76L672.72 44.36L676.42 50.76Z" fill="#fff" stroke="#1f6fe2" stroke-width="1.25" stroke-linejoin="round"/><path d="M672.72 44.36L676.42 50.76L672.72 50.76Z" fill="#1f6fe2"/><path d="M416.65 206.7L420.35 213.3L424.05 206.7Z" fill="#fff" stroke="#2aa866" stroke-width="1.25" stroke-linejoin="round"/><path d="M420.35 213.3L424.05 206.7L420.35 206.7Z" fill="#2aa866"/><path d="M418.93 179.14L422.63 185.74L426.33 179.14Z" fill="#fff" stroke="#2aa866" stroke-width="1.25" stroke-linejoin="round"/><path d="M422.63 185.74L426.33 179.14L422.63 179.14Z" fill="#2aa866"/><path d="M421.21 132.04L424.91 138.64L428.61 132.04Z" fill="#fff" stroke="#2aa866" stroke-width="1.25" stroke-linejoin="round"/><path d="M424.91 138.64L428.61 132.04L424.91 132.04Z" fill="#2aa866"/><path d="M426.83 88.09L430.53 94.69L434.23 88.09Z" fill="#fff" stroke="#2aa866" stroke-width="1.25" stroke-linejoin="round"/><path d="M430.53 94.69L434.23 88.09L430.53 88.09Z" fill="#2aa866"/><path d="M437.36 78.62L441.06 85.22L444.76 78.62Z" fill="#fff" stroke="#2aa866" stroke-width="1.25" stroke-linejoin="round"/><path d="M441.06 85.22L444.76 78.62L441.06 78.62Z" fill="#2aa866"/><path d="M458.42 69.15L462.12 75.75L465.82 69.15Z" fill="#fff" stroke="#2aa866" stroke-width="1.25" stroke-linejoin="round"/><path d="M462.12 75.75L465.82 69.15L462.12 69.15Z" fill="#2aa866"/><path d="M500.54 55.31L504.24 61.91L507.94 55.31Z" fill="#fff" stroke="#2aa866" stroke-width="1.25" stroke-linejoin="round"/><path d="M504.24 61.91L507.94 55.31L504.24 55.31Z" fill="#2aa866"/><path d="M542.66 54.1L546.36 60.7L550.06 54.1Z" fill="#fff" stroke="#2aa866" stroke-width="1.25" stroke-linejoin="round"/><path d="M546.36 60.7L550.06 54.1L546.36 54.1Z" fill="#2aa866"/><path d="M669.02 51.91L672.72 58.51L676.42 51.91Z" fill="#fff" stroke="#2aa866" stroke-width="1.25" stroke-linejoin="round"/><path d="M672.72 58.51L676.42 51.91L672.72 51.91Z" fill="#2aa866"/><path d="M420.35 194.56L424.25 198.46L420.35 202.36L416.45 198.46Z" fill="#fff" stroke="#4a4a4a" stroke-width="1.4375" stroke-linejoin="round"/><path d="M420.35 194.56L424.25 198.46L420.35 202.36Z" fill="#4a4a4a"/><path d="M422.63 166.03L426.53 169.94L422.63 173.84L418.73 169.94Z" fill="#fff" stroke="#4a4a4a" stroke-width="1.4375" stroke-linejoin="round"/><path d="M422.63 166.03L426.53 169.94L422.63 173.84Z" fill="#4a4a4a"/><path d="M424.91 122.33L428.81 126.23L424.91 130.13L421.01 126.23Z" fill="#fff" stroke="#4a4a4a" stroke-width="1.4375" stroke-linejoin="round"/><path d="M424.91 122.33L428.81 126.23L424.91 130.13Z" fill="#4a4a4a"/><path d="M430.53 50.1L434.43 54L430.53 57.9L426.63 54Z" fill="#fff" stroke="#4a4a4a" stroke-width="1.4375" stroke-linejoin="round"/><path d="M430.53 50.1L434.43 54L430.53 57.9Z" fill="#4a4a4a"/><path d="M441.06 37.96L444.96 41.86L441.06 45.76L437.16 41.86Z" fill="#fff" stroke="#4a4a4a" stroke-width="1.4375" stroke-linejoin="round"/><path d="M441.06 37.96L444.96 41.86L441.06 45.76Z" fill="#4a4a4a"/><path d="M462.12 34.07L466.02 37.97L462.12 41.87L458.22 37.97Z" fill="#fff" stroke="#4a4a4a" stroke-width="1.4375" stroke-linejoin="round"/><path d="M462.12 34.07L466.02 37.97L462.12 41.87Z" fill="#4a4a4a"/><path d="M504.24 30.43L508.14 34.33L504.24 38.23L500.34 34.33Z" fill="#fff" stroke="#4a4a4a" stroke-width="1.4375" stroke-linejoin="round"/><path d="M504.24 30.43L508.14 34.33L504.24 38.23Z" fill="#4a4a4a"/><path d="M546.36 27.03L550.26 30.93L546.36 34.83L542.46 30.93Z" fill="#fff" stroke="#4a4a4a" stroke-width="1.4375" stroke-linejoin="round"/><path d="M546.36 27.03L550.26 30.93L546.36 34.83Z" fill="#4a4a4a"/><path d="M672.72 27.03L676.62 30.93L672.72 34.83L668.82 30.93Z" fill="#fff" stroke="#4a4a4a" stroke-width="1.4375" stroke-linejoin="round"/><path d="M672.72 27.03L676.62 30.93L672.72 34.83Z" fill="#4a4a4a"/><rect x="611.92" y="134.52" width="5.15" height="5.15" fill="#fff" stroke="#a86ae0" stroke-width="0.9"/><rect x="614.5" y="134.52" width="2.58" height="5.15" fill="#a86ae0"/><text x="631" y="141.2" font-size="11.25" text-anchor="start">Soil+HA</text><circle cx="614.5" cy="152" r="2.94" fill="#fff" stroke="#ee3a40" stroke-width="0.9"/><path d="M614.5 149.06A2.94 2.94 0 0 1 614.5 154.94Z" fill="#ee3a40"/><text x="631" y="156.1" font-size="11.25" text-anchor="start">Soil+FA</text><path d="M611.1 169.34L614.5 163.46L617.9 169.34Z" fill="#fff" stroke="#1f6fe2" stroke-width="0.9" stroke-linejoin="round"/><path d="M614.5 163.46L617.9 169.34L614.5 169.34Z" fill="#1f6fe2"/><text x="631" y="170.5" font-size="11.25" text-anchor="start">HA</text><path d="M611.1 177.86L614.5 183.94L617.9 177.86Z" fill="#fff" stroke="#2aa866" stroke-width="0.9" stroke-linejoin="round"/><path d="M614.5 183.94L617.9 177.86L614.5 177.86Z" fill="#2aa866"/><text x="631" y="185" font-size="11.25" text-anchor="start">FA</text><path d="M614.5 191.61L618.09 195.2L614.5 198.79L610.91 195.2Z" fill="#fff" stroke="#4a4a4a" stroke-width="1.035" stroke-linejoin="round"/><path d="M614.5 191.61L618.09 195.2L614.5 198.79Z" fill="#4a4a4a"/><text x="631" y="199.3" font-size="11.25" text-anchor="start">Soil</text><text x="540.2" y="260.8" font-size="13.3" text-anchor="middle">t (min)</text><text transform="translate(382.3 119.3) rotate(-90)" font-size="13.3" text-anchor="middle">q<tspan font-size="9" dy="4.2">t</tspan><tspan dy="-4.2"> (μg/g)</tspan></text><rect x="57.4" y="268.6" width="273.1" height="218.1" fill="none" stroke="#444" stroke-width="1.5"/><line x1="68" y1="486.7" x2="68" y2="491" stroke="#444" stroke-width="1.3"/><text x="68.2" y="504" font-size="12.2" text-anchor="middle">0</text><line x1="103.14" y1="486.7" x2="103.14" y2="491" stroke="#444" stroke-width="1.3"/><text x="103.34" y="504" font-size="12.2" text-anchor="middle">200</text><line x1="138.28" y1="486.7" x2="138.28" y2="491" stroke="#444" stroke-width="1.3"/><text x="138.48" y="504" font-size="12.2" text-anchor="middle">400</text><line x1="173.42" y1="486.7" x2="173.42" y2="491" stroke="#444" stroke-width="1.3"/><text x="173.62" y="504" font-size="12.2" text-anchor="middle">600</text><line x1="208.56" y1="486.7" x2="208.56" y2="491" stroke="#444" stroke-width="1.3"/><text x="208.76" y="504" font-size="12.2" text-anchor="middle">800</text><line x1="243.7" y1="486.7" x2="243.7" y2="491" stroke="#444" stroke-width="1.3"/><text x="243.9" y="504" font-size="12.2" text-anchor="middle">1000</text><line x1="278.84" y1="486.7" x2="278.84" y2="491" stroke="#444" stroke-width="1.3"/><text x="279.04" y="504" font-size="12.2" text-anchor="middle">1200</text><line x1="313.98" y1="486.7" x2="313.98" y2="491" stroke="#444" stroke-width="1.3"/><text x="314.18" y="504" font-size="12.2" text-anchor="middle">1400</text><line x1="53.1" y1="477" x2="57.4" y2="477" stroke="#444" stroke-width="1.3"/><text x="50.1" y="480.4" font-size="12.2" text-anchor="end">0</text><line x1="53.1" y1="437.3" x2="57.4" y2="437.3" stroke="#444" stroke-width="1.3"/><text x="50.1" y="440.7" font-size="12.2" text-anchor="end">20</text><line x1="53.1" y1="397.6" x2="57.4" y2="397.6" stroke="#444" stroke-width="1.3"/><text x="50.1" y="401" font-size="12.2" text-anchor="end">40</text><line x1="53.1" y1="357.9" x2="57.4" y2="357.9" stroke="#444" stroke-width="1.3"/><text x="50.1" y="361.3" font-size="12.2" text-anchor="end">60</text><line x1="53.1" y1="318.2" x2="57.4" y2="318.2" stroke="#444" stroke-width="1.3"/><text x="50.1" y="321.6" font-size="12.2" text-anchor="end">80</text><line x1="53.1" y1="278.5" x2="57.4" y2="278.5" stroke="#444" stroke-width="1.3"/><text x="50.1" y="281.9" font-size="12.2" text-anchor="end">100</text><text x="0.1" y="269.7" font-size="19.3" text-anchor="start" letter-spacing="0.4">(c)</text><rect x="65.55" y="472.16" width="5.6" height="5.6" fill="#fff" stroke="#a86ae0" stroke-width="1.25"/><rect x="68.35" y="472.16" width="2.8" height="5.6" fill="#a86ae0"/><rect x="67.84" y="467.28" width="5.6" height="5.6" fill="#fff" stroke="#a86ae0" stroke-width="1.25"/><rect x="70.64" y="467.28" width="2.8" height="5.6" fill="#a86ae0"/><rect x="70.12" y="468.51" width="5.6" height="5.6" fill="#fff" stroke="#a86ae0" stroke-width="1.25"/><rect x="72.92" y="468.51" width="2.8" height="5.6" fill="#a86ae0"/><rect x="75.74" y="464.71" width="5.6" height="5.6" fill="#fff" stroke="#a86ae0" stroke-width="1.25"/><rect x="78.54" y="464.71" width="2.8" height="5.6" fill="#a86ae0"/><rect x="86.28" y="457.06" width="5.6" height="5.6" fill="#fff" stroke="#a86ae0" stroke-width="1.25"/><rect x="89.08" y="457.06" width="2.8" height="5.6" fill="#a86ae0"/><rect x="107.37" y="442.44" width="5.6" height="5.6" fill="#fff" stroke="#a86ae0" stroke-width="1.25"/><rect x="110.17" y="442.44" width="2.8" height="5.6" fill="#a86ae0"/><rect x="149.54" y="413.51" width="5.6" height="5.6" fill="#fff" stroke="#a86ae0" stroke-width="1.25"/><rect x="152.34" y="413.51" width="2.8" height="5.6" fill="#a86ae0"/><rect x="191.7" y="384.59" width="5.6" height="5.6" fill="#fff" stroke="#a86ae0" stroke-width="1.25"/><rect x="194.5" y="384.59" width="2.8" height="5.6" fill="#a86ae0"/><rect x="318.21" y="294.99" width="5.6" height="5.6" fill="#fff" stroke="#a86ae0" stroke-width="1.25"/><rect x="321.01" y="294.99" width="2.8" height="5.6" fill="#a86ae0"/><circle cx="68.35" cy="475.15" r="3.2" fill="#fff" stroke="#ee3a40" stroke-width="1.25"/><path d="M68.35 471.95A3.2 3.2 0 0 1 68.35 478.35Z" fill="#ee3a40"/><circle cx="70.64" cy="470.31" r="3.2" fill="#fff" stroke="#ee3a40" stroke-width="1.25"/><path d="M70.64 467.11A3.2 3.2 0 0 1 70.64 473.51Z" fill="#ee3a40"/><circle cx="72.92" cy="470.26" r="3.2" fill="#fff" stroke="#ee3a40" stroke-width="1.25"/><path d="M72.92 467.06A3.2 3.2 0 0 1 72.92 473.46Z" fill="#ee3a40"/><circle cx="78.54" cy="467.8" r="3.2" fill="#fff" stroke="#ee3a40" stroke-width="1.25"/><path d="M78.54 464.6A3.2 3.2 0 0 1 78.54 471Z" fill="#ee3a40"/><circle cx="89.08" cy="460.2" r="3.2" fill="#fff" stroke="#ee3a40" stroke-width="1.25"/><path d="M89.08 457A3.2 3.2 0 0 1 89.08 463.4Z" fill="#ee3a40"/><circle cx="110.17" cy="445.35" r="3.2" fill="#fff" stroke="#ee3a40" stroke-width="1.25"/><path d="M110.17 442.15A3.2 3.2 0 0 1 110.17 448.55Z" fill="#ee3a40"/><circle cx="152.34" cy="415.33" r="3.2" fill="#fff" stroke="#ee3a40" stroke-width="1.25"/><path d="M152.34 412.13A3.2 3.2 0 0 1 152.34 418.53Z" fill="#ee3a40"/><circle cx="194.5" cy="385.5" r="3.2" fill="#fff" stroke="#ee3a40" stroke-width="1.25"/><path d="M194.5 382.3A3.2 3.2 0 0 1 194.5 388.7Z" fill="#ee3a40"/><circle cx="321.01" cy="294" r="3.2" fill="#fff" stroke="#ee3a40" stroke-width="1.25"/><path d="M321.01 290.8A3.2 3.2 0 0 1 321.01 297.2Z" fill="#ee3a40"/><path d="M64.65 477.99L68.35 471.59L72.05 477.99Z" fill="#fff" stroke="#1f6fe2" stroke-width="1.25" stroke-linejoin="round"/><path d="M68.35 471.59L72.05 477.99L68.35 477.99Z" fill="#1f6fe2"/><path d="M66.94 472.85L70.64 466.45L74.34 472.85Z" fill="#fff" stroke="#1f6fe2" stroke-width="1.25" stroke-linejoin="round"/><path d="M70.64 466.45L74.34 472.85L70.64 472.85Z" fill="#1f6fe2"/><path d="M69.22 473.21L72.92 466.81L76.62 473.21Z" fill="#fff" stroke="#1f6fe2" stroke-width="1.25" stroke-linejoin="round"/><path d="M72.92 466.81L76.62 473.21L72.92 473.21Z" fill="#1f6fe2"/><path d="M74.84 470.19L78.54 463.79L82.24 470.19Z" fill="#fff" stroke="#1f6fe2" stroke-width="1.25" stroke-linejoin="round"/><path d="M78.54 463.79L82.24 470.19L78.54 470.19Z" fill="#1f6fe2"/><path d="M85.38 460.43L89.08 454.03L92.78 460.43Z" fill="#fff" stroke="#1f6fe2" stroke-width="1.25" stroke-linejoin="round"/><path d="M89.08 454.03L92.78 460.43L89.08 460.43Z" fill="#1f6fe2"/><path d="M106.47 445.43L110.17 439.03L113.87 445.43Z" fill="#fff" stroke="#1f6fe2" stroke-width="1.25" stroke-linejoin="round"/><path d="M110.17 439.03L113.87 445.43L110.17 445.43Z" fill="#1f6fe2"/><path d="M148.64 412.53L152.34 406.13L156.04 412.53Z" fill="#fff" stroke="#1f6fe2" stroke-width="1.25" stroke-linejoin="round"/><path d="M152.34 406.13L156.04 412.53L152.34 412.53Z" fill="#1f6fe2"/><path d="M190.8 380.95L194.5 374.55L198.2 380.95Z" fill="#fff" stroke="#1f6fe2" stroke-width="1.25" stroke-linejoin="round"/><path d="M194.5 374.55L198.2 380.95L194.5 380.95Z" fill="#1f6fe2"/><path d="M317.31 287.46L321.01 281.06L324.71 287.46Z" fill="#fff" stroke="#1f6fe2" stroke-width="1.25" stroke-linejoin="round"/><path d="M321.01 281.06L324.71 287.46L321.01 287.46Z" fill="#1f6fe2"/><path d="M64.65 470.96L68.35 477.56L72.05 470.96Z" fill="#fff" stroke="#2aa866" stroke-width="1.25" stroke-linejoin="round"/><path d="M68.35 477.56L72.05 470.96L68.35 470.96Z" fill="#2aa866"/><path d="M66.94 465.7L70.64 472.3L74.34 465.7Z" fill="#fff" stroke="#2aa866" stroke-width="1.25" stroke-linejoin="round"/><path d="M70.64 472.3L74.34 465.7L70.64 465.7Z" fill="#2aa866"/><path d="M69.22 466.39L72.92 472.99L76.62 466.39Z" fill="#fff" stroke="#2aa866" stroke-width="1.25" stroke-linejoin="round"/><path d="M72.92 472.99L76.62 466.39L72.92 466.39Z" fill="#2aa866"/><path d="M74.84 463.09L78.54 469.69L82.24 463.09Z" fill="#fff" stroke="#2aa866" stroke-width="1.25" stroke-linejoin="round"/><path d="M78.54 469.69L82.24 463.09L78.54 463.09Z" fill="#2aa866"/><path d="M85.38 453.85L89.08 460.45L92.78 453.85Z" fill="#fff" stroke="#2aa866" stroke-width="1.25" stroke-linejoin="round"/><path d="M89.08 460.45L92.78 453.85L89.08 453.85Z" fill="#2aa866"/><path d="M106.47 436.42L110.17 443.02L113.87 436.42Z" fill="#fff" stroke="#2aa866" stroke-width="1.25" stroke-linejoin="round"/><path d="M110.17 443.02L113.87 436.42L110.17 436.42Z" fill="#2aa866"/><path d="M148.64 405.25L152.34 411.85L156.04 405.25Z" fill="#fff" stroke="#2aa866" stroke-width="1.25" stroke-linejoin="round"/><path d="M152.34 411.85L156.04 405.25L152.34 405.25Z" fill="#2aa866"/><path d="M190.8 371.76L194.5 378.36L198.2 371.76Z" fill="#fff" stroke="#2aa866" stroke-width="1.25" stroke-linejoin="round"/><path d="M194.5 378.36L198.2 371.76L194.5 371.76Z" fill="#2aa866"/><path d="M317.31 272.4L321.01 279L324.71 272.4Z" fill="#fff" stroke="#2aa866" stroke-width="1.25" stroke-linejoin="round"/><path d="M321.01 279L324.71 272.4L321.01 272.4Z" fill="#2aa866"/><path d="M68.35 471.45L72.25 475.35L68.35 479.25L64.45 475.35Z" fill="#fff" stroke="#4a4a4a" stroke-width="1.4375" stroke-linejoin="round"/><path d="M68.35 471.45L72.25 475.35L68.35 479.25Z" fill="#4a4a4a"/><path d="M70.64 466.83L74.54 470.73L70.64 474.63L66.74 470.73Z" fill="#fff" stroke="#4a4a4a" stroke-width="1.4375" stroke-linejoin="round"/><path d="M70.64 466.83L74.54 470.73L70.64 474.63Z" fill="#4a4a4a"/><path d="M72.92 466.44L76.82 470.34L72.92 474.24L69.02 470.34Z" fill="#fff" stroke="#4a4a4a" stroke-width="1.4375" stroke-linejoin="round"/><path d="M72.92 466.44L76.82 470.34L72.92 474.24Z" fill="#4a4a4a"/><path d="M78.54 464.77L82.44 468.67L78.54 472.57L74.64 468.67Z" fill="#fff" stroke="#4a4a4a" stroke-width="1.4375" stroke-linejoin="round"/><path d="M78.54 464.77L82.44 468.67L78.54 472.57Z" fill="#4a4a4a"/><path d="M89.08 457.53L92.98 461.43L89.08 465.33L85.18 461.43Z" fill="#fff" stroke="#4a4a4a" stroke-width="1.4375" stroke-linejoin="round"/><path d="M89.08 457.53L92.98 461.43L89.08 465.33Z" fill="#4a4a4a"/><path d="M110.17 442.6L114.07 446.5L110.17 450.4L106.27 446.5Z" fill="#fff" stroke="#4a4a4a" stroke-width="1.4375" stroke-linejoin="round"/><path d="M110.17 442.6L114.07 446.5L110.17 450.4Z" fill="#4a4a4a"/><path d="M152.34 413.25L156.24 417.15L152.34 421.05L148.44 417.15Z" fill="#fff" stroke="#4a4a4a" stroke-width="1.4375" stroke-linejoin="round"/><path d="M152.34 413.25L156.24 417.15L152.34 421.05Z" fill="#4a4a4a"/><path d="M194.5 384.88L198.4 388.78L194.5 392.68L190.6 388.78Z" fill="#fff" stroke="#4a4a4a" stroke-width="1.4375" stroke-linejoin="round"/><path d="M194.5 384.88L198.4 388.78L194.5 392.68Z" fill="#4a4a4a"/><path d="M321.01 296.66L324.91 300.56L321.01 304.46L317.11 300.56Z" fill="#fff" stroke="#4a4a4a" stroke-width="1.4375" stroke-linejoin="round"/><path d="M321.01 296.66L324.91 300.56L321.01 304.46Z" fill="#4a4a4a"/><path d="M68 475.01 L321.01 298.57" fill="none" stroke="#9a78d6" stroke-width="1.7" stroke-dasharray="5.6 5.4"/><path d="M68 475.01 L321.01 295.8" fill="none" stroke="#ee3038" stroke-width="1.7" stroke-dasharray="5.6 5.4"/><path d="M68 475.21 L321.01 282.73" fill="none" stroke="#2f7ae6" stroke-width="1.7" stroke-dasharray="5.6 5.4"/><path d="M68 474.62 L321.01 276.12" fill="none" stroke="#34ac6a" stroke-width="1.7" stroke-dasharray="5.6 5.4"/><path d="M68 475.01 L321.01 301.78" fill="none" stroke="#555555" stroke-width="1.7" stroke-dasharray="5.6 5.4"/><rect x="261.92" y="394.52" width="5.15" height="5.15" fill="#fff" stroke="#a86ae0" stroke-width="0.9"/><rect x="264.5" y="394.52" width="2.58" height="5.15" fill="#a86ae0"/><text x="280.7" y="401.2" font-size="11.25" text-anchor="start">Soil+HA</text><circle cx="264.5" cy="412" r="2.94" fill="#fff" stroke="#ee3a40" stroke-width="0.9"/><path d="M264.5 409.06A2.94 2.94 0 0 1 264.5 414.94Z" fill="#ee3a40"/><text x="280.7" y="416.1" font-size="11.25" text-anchor="start">Soil+FA</text><path d="M261.1 429.34L264.5 423.46L267.9 429.34Z" fill="#fff" stroke="#1f6fe2" stroke-width="0.9" stroke-linejoin="round"/><path d="M264.5 423.46L267.9 429.34L264.5 429.34Z" fill="#1f6fe2"/><text x="280.7" y="430.5" font-size="11.25" text-anchor="start">HA</text><path d="M261.1 437.86L264.5 443.94L267.9 437.86Z" fill="#fff" stroke="#2aa866" stroke-width="0.9" stroke-linejoin="round"/><path d="M264.5 443.94L267.9 437.86L264.5 437.86Z" fill="#2aa866"/><text x="280.7" y="445" font-size="11.25" text-anchor="start">FA</text><path d="M264.5 451.61L268.09 455.2L264.5 458.79L260.91 455.2Z" fill="#fff" stroke="#4a4a4a" stroke-width="1.035" stroke-linejoin="round"/><path d="M264.5 451.61L268.09 455.2L264.5 458.79Z" fill="#4a4a4a"/><text x="280.7" y="459.3" font-size="11.25" text-anchor="start">Soil</text><text x="192" y="520.8" font-size="13.3" text-anchor="middle">t (min)</text><text transform="translate(28.5 370.2) rotate(-90)" font-size="13.3" text-anchor="middle">t/q<tspan font-size="9" dy="4.2">t</tspan><tspan dy="-4.2"> (min·g/μg)</tspan></text><rect x="409.4" y="269.9" width="273.7" height="217.7" fill="none" stroke="#444" stroke-width="1.5"/><line x1="420" y1="487.6" x2="420" y2="491.9" stroke="#444" stroke-width="1.3"/><text x="420.2" y="504.9" font-size="11.8" text-anchor="middle">0</text><line x1="455.34" y1="487.6" x2="455.34" y2="491.9" stroke="#444" stroke-width="1.3"/><text x="455.54" y="504.9" font-size="11.8" text-anchor="middle">200</text><line x1="490.68" y1="487.6" x2="490.68" y2="491.9" stroke="#444" stroke-width="1.3"/><text x="490.88" y="504.9" font-size="11.8" text-anchor="middle">400</text><line x1="526.02" y1="487.6" x2="526.02" y2="491.9" stroke="#444" stroke-width="1.3"/><text x="526.22" y="504.9" font-size="11.8" text-anchor="middle">600</text><line x1="561.36" y1="487.6" x2="561.36" y2="491.9" stroke="#444" stroke-width="1.3"/><text x="561.56" y="504.9" font-size="11.8" text-anchor="middle">800</text><line x1="596.7" y1="487.6" x2="596.7" y2="491.9" stroke="#444" stroke-width="1.3"/><text x="596.9" y="504.9" font-size="11.8" text-anchor="middle">1000</text><line x1="632.04" y1="487.6" x2="632.04" y2="491.9" stroke="#444" stroke-width="1.3"/><text x="632.24" y="504.9" font-size="11.8" text-anchor="middle">1200</text><line x1="667.38" y1="487.6" x2="667.38" y2="491.9" stroke="#444" stroke-width="1.3"/><text x="667.58" y="504.9" font-size="11.8" text-anchor="middle">1400</text><line x1="405.1" y1="487.6" x2="409.4" y2="487.6" stroke="#444" stroke-width="1.3"/><text x="402.1" y="491" font-size="11.8" text-anchor="end">0</text><line x1="405.1" y1="454.9" x2="409.4" y2="454.9" stroke="#444" stroke-width="1.3"/><text x="402.1" y="458.3" font-size="11.8" text-anchor="end">3</text><line x1="405.1" y1="422.2" x2="409.4" y2="422.2" stroke="#444" stroke-width="1.3"/><text x="402.1" y="425.6" font-size="11.8" text-anchor="end">6</text><line x1="405.1" y1="389.5" x2="409.4" y2="389.5" stroke="#444" stroke-width="1.3"/><text x="402.1" y="392.9" font-size="11.8" text-anchor="end">9</text><line x1="405.1" y1="356.8" x2="409.4" y2="356.8" stroke="#444" stroke-width="1.3"/><text x="402.1" y="360.2" font-size="11.8" text-anchor="end">12</text><line x1="405.1" y1="324.1" x2="409.4" y2="324.1" stroke="#444" stroke-width="1.3"/><text x="402.1" y="327.5" font-size="11.8" text-anchor="end">15</text><line x1="405.1" y1="291.4" x2="409.4" y2="291.4" stroke="#444" stroke-width="1.3"/><text x="402.1" y="294.8" font-size="11.8" text-anchor="end">18</text><text x="347.6" y="280" font-size="19.3" text-anchor="start" letter-spacing="0.4">(d)</text><rect x="417.55" y="463.55" width="5.6" height="5.6" fill="#fff" stroke="#a86ae0" stroke-width="1.25"/><rect x="420.35" y="463.55" width="2.8" height="5.6" fill="#a86ae0"/><rect x="419.85" y="437.93" width="5.6" height="5.6" fill="#fff" stroke="#a86ae0" stroke-width="1.25"/><rect x="422.65" y="437.93" width="2.8" height="5.6" fill="#a86ae0"/><rect x="422.15" y="378.31" width="5.6" height="5.6" fill="#fff" stroke="#a86ae0" stroke-width="1.25"/><rect x="424.95" y="378.31" width="2.8" height="5.6" fill="#a86ae0"/><rect x="427.8" y="348" width="5.6" height="5.6" fill="#fff" stroke="#a86ae0" stroke-width="1.25"/><rect x="430.6" y="348" width="2.8" height="5.6" fill="#a86ae0"/><rect x="438.4" y="333.29" width="5.6" height="5.6" fill="#fff" stroke="#a86ae0" stroke-width="1.25"/><rect x="441.2" y="333.29" width="2.8" height="5.6" fill="#a86ae0"/><rect x="459.61" y="321.3" width="5.6" height="5.6" fill="#fff" stroke="#a86ae0" stroke-width="1.25"/><rect x="462.41" y="321.3" width="2.8" height="5.6" fill="#a86ae0"/><rect x="502.02" y="313.67" width="5.6" height="5.6" fill="#fff" stroke="#a86ae0" stroke-width="1.25"/><rect x="504.82" y="313.67" width="2.8" height="5.6" fill="#a86ae0"/><rect x="544.42" y="310.94" width="5.6" height="5.6" fill="#fff" stroke="#a86ae0" stroke-width="1.25"/><rect x="547.22" y="310.94" width="2.8" height="5.6" fill="#a86ae0"/><rect x="671.65" y="310.94" width="5.6" height="5.6" fill="#fff" stroke="#a86ae0" stroke-width="1.25"/><rect x="674.45" y="310.94" width="2.8" height="5.6" fill="#a86ae0"/><circle cx="420.35" cy="464.17" r="3.2" fill="#fff" stroke="#ee3a40" stroke-width="1.25"/><path d="M420.35 460.97A3.2 3.2 0 0 1 420.35 467.37Z" fill="#ee3a40"/><circle cx="422.65" cy="439.1" r="3.2" fill="#fff" stroke="#ee3a40" stroke-width="1.25"/><path d="M422.65 435.9A3.2 3.2 0 0 1 422.65 442.3Z" fill="#ee3a40"/><circle cx="424.95" cy="397.68" r="3.2" fill="#fff" stroke="#ee3a40" stroke-width="1.25"/><path d="M424.95 394.48A3.2 3.2 0 0 1 424.95 400.88Z" fill="#ee3a40"/><circle cx="430.6" cy="346.45" r="3.2" fill="#fff" stroke="#ee3a40" stroke-width="1.25"/><path d="M430.6 343.25A3.2 3.2 0 0 1 430.6 349.65Z" fill="#ee3a40"/><circle cx="441.2" cy="333.04" r="3.2" fill="#fff" stroke="#ee3a40" stroke-width="1.25"/><path d="M441.2 329.84A3.2 3.2 0 0 1 441.2 336.24Z" fill="#ee3a40"/><circle cx="462.41" cy="323.56" r="3.2" fill="#fff" stroke="#ee3a40" stroke-width="1.25"/><path d="M462.41 320.36A3.2 3.2 0 0 1 462.41 326.75Z" fill="#ee3a40"/><circle cx="504.82" cy="319.2" r="3.2" fill="#fff" stroke="#ee3a40" stroke-width="1.25"/><path d="M504.82 316A3.2 3.2 0 0 1 504.82 322.4Z" fill="#ee3a40"/><circle cx="547.22" cy="317.34" r="3.2" fill="#fff" stroke="#ee3a40" stroke-width="1.25"/><path d="M547.22 314.14A3.2 3.2 0 0 1 547.22 320.54Z" fill="#ee3a40"/><circle cx="674.45" cy="317.34" r="3.2" fill="#fff" stroke="#ee3a40" stroke-width="1.25"/><path d="M674.45 314.14A3.2 3.2 0 0 1 674.45 320.54Z" fill="#ee3a40"/><path d="M416.65 471.18L420.35 464.78L424.05 471.18Z" fill="#fff" stroke="#1f6fe2" stroke-width="1.25" stroke-linejoin="round"/><path d="M420.35 464.78L424.05 471.18L420.35 471.18Z" fill="#1f6fe2"/><path d="M418.95 446.66L422.65 440.26L426.35 446.66Z" fill="#fff" stroke="#1f6fe2" stroke-width="1.25" stroke-linejoin="round"/><path d="M422.65 440.26L426.35 446.66L422.65 446.66Z" fill="#1f6fe2"/><path d="M421.25 404.15L424.95 397.75L428.65 404.15Z" fill="#fff" stroke="#1f6fe2" stroke-width="1.25" stroke-linejoin="round"/><path d="M424.95 397.75L428.65 404.15L424.95 404.15Z" fill="#1f6fe2"/><path d="M426.9 361.09L430.6 354.69L434.3 361.09Z" fill="#fff" stroke="#1f6fe2" stroke-width="1.25" stroke-linejoin="round"/><path d="M430.6 354.69L434.3 361.09L430.6 361.09Z" fill="#1f6fe2"/><path d="M437.5 359.45L441.2 353.06L444.9 359.45Z" fill="#fff" stroke="#1f6fe2" stroke-width="1.25" stroke-linejoin="round"/><path d="M441.2 353.06L444.9 359.45L441.2 359.45Z" fill="#1f6fe2"/><path d="M458.71 341.47L462.41 335.07L466.11 341.47Z" fill="#fff" stroke="#1f6fe2" stroke-width="1.25" stroke-linejoin="round"/><path d="M462.41 335.07L466.11 341.47L462.41 341.47Z" fill="#1f6fe2"/><path d="M501.12 337.33L504.82 330.93L508.52 337.33Z" fill="#fff" stroke="#1f6fe2" stroke-width="1.25" stroke-linejoin="round"/><path d="M504.82 330.93L508.52 337.33L504.82 337.33Z" fill="#1f6fe2"/><path d="M543.52 333.84L547.22 327.44L550.92 333.84Z" fill="#fff" stroke="#1f6fe2" stroke-width="1.25" stroke-linejoin="round"/><path d="M547.22 327.44L550.92 333.84L547.22 333.84Z" fill="#1f6fe2"/><path d="M670.75 329.15L674.45 322.75L678.15 329.15Z" fill="#fff" stroke="#1f6fe2" stroke-width="1.25" stroke-linejoin="round"/><path d="M674.45 322.75L678.15 329.15L674.45 329.15Z" fill="#1f6fe2"/><path d="M416.65 468.5L420.35 475.1L424.05 468.5Z" fill="#fff" stroke="#2aa866" stroke-width="1.25" stroke-linejoin="round"/><path d="M420.35 475.1L424.05 468.5L420.35 468.5Z" fill="#2aa866"/><path d="M418.95 443.75L422.65 450.35L426.35 443.75Z" fill="#fff" stroke="#2aa866" stroke-width="1.25" stroke-linejoin="round"/><path d="M422.65 450.35L426.35 443.75L422.65 443.75Z" fill="#2aa866"/><path d="M421.25 401.46L424.95 408.06L428.65 401.46Z" fill="#fff" stroke="#2aa866" stroke-width="1.25" stroke-linejoin="round"/><path d="M424.95 408.06L428.65 401.46L424.95 401.46Z" fill="#2aa866"/><path d="M426.9 362L430.6 368.6L434.3 362Z" fill="#fff" stroke="#2aa866" stroke-width="1.25" stroke-linejoin="round"/><path d="M430.6 368.6L434.3 362L430.6 362Z" fill="#2aa866"/><path d="M437.5 353.5L441.2 360.1L444.9 353.5Z" fill="#fff" stroke="#2aa866" stroke-width="1.25" stroke-linejoin="round"/><path d="M441.2 360.1L444.9 353.5L441.2 353.5Z" fill="#2aa866"/><path d="M458.71 345L462.41 351.6L466.11 345Z" fill="#fff" stroke="#2aa866" stroke-width="1.25" stroke-linejoin="round"/><path d="M462.41 351.6L466.11 345L462.41 345Z" fill="#2aa866"/><path d="M501.12 332.57L504.82 339.17L508.52 332.57Z" fill="#fff" stroke="#2aa866" stroke-width="1.25" stroke-linejoin="round"/><path d="M504.82 339.17L508.52 332.57L504.82 332.57Z" fill="#2aa866"/><path d="M543.52 331.48L547.22 338.08L550.92 331.48Z" fill="#fff" stroke="#2aa866" stroke-width="1.25" stroke-linejoin="round"/><path d="M547.22 338.08L550.92 331.48L547.22 331.48Z" fill="#2aa866"/><path d="M670.75 329.52L674.45 336.12L678.15 329.52Z" fill="#fff" stroke="#2aa866" stroke-width="1.25" stroke-linejoin="round"/><path d="M674.45 336.12L678.15 329.52L674.45 329.52Z" fill="#2aa866"/><path d="M420.35 457.54L424.25 461.44L420.35 465.34L416.45 461.44Z" fill="#fff" stroke="#4a4a4a" stroke-width="1.4375" stroke-linejoin="round"/><path d="M420.35 457.54L424.25 461.44L420.35 465.34Z" fill="#4a4a4a"/><path d="M422.65 431.93L426.55 435.83L422.65 439.73L418.75 435.83Z" fill="#fff" stroke="#4a4a4a" stroke-width="1.4375" stroke-linejoin="round"/><path d="M422.65 431.93L426.55 435.83L422.65 439.73Z" fill="#4a4a4a"/><path d="M424.95 392.69L428.85 396.59L424.95 400.49L421.05 396.59Z" fill="#fff" stroke="#4a4a4a" stroke-width="1.4375" stroke-linejoin="round"/><path d="M424.95 392.69L428.85 396.59L424.95 400.49Z" fill="#4a4a4a"/><path d="M430.6 327.83L434.5 331.73L430.6 335.63L426.7 331.73Z" fill="#fff" stroke="#4a4a4a" stroke-width="1.4375" stroke-linejoin="round"/><path d="M430.6 327.83L434.5 331.73L430.6 335.63Z" fill="#4a4a4a"/><path d="M441.2 316.93L445.1 320.83L441.2 324.73L437.3 320.83Z" fill="#fff" stroke="#4a4a4a" stroke-width="1.4375" stroke-linejoin="round"/><path d="M441.2 316.93L445.1 320.83L441.2 324.73Z" fill="#4a4a4a"/><path d="M462.41 313.44L466.31 317.34L462.41 321.24L458.51 317.34Z" fill="#fff" stroke="#4a4a4a" stroke-width="1.4375" stroke-linejoin="round"/><path d="M462.41 313.44L466.31 317.34L462.41 321.24Z" fill="#4a4a4a"/><path d="M504.82 310.17L508.72 314.07L504.82 317.97L500.92 314.07Z" fill="#fff" stroke="#4a4a4a" stroke-width="1.4375" stroke-linejoin="round"/><path d="M504.82 310.17L508.72 314.07L504.82 317.97Z" fill="#4a4a4a"/><path d="M547.22 307.12L551.12 311.02L547.22 314.92L543.32 311.02Z" fill="#fff" stroke="#4a4a4a" stroke-width="1.4375" stroke-linejoin="round"/><path d="M547.22 307.12L551.12 311.02L547.22 314.92Z" fill="#4a4a4a"/><path d="M674.45 307.12L678.35 311.02L674.45 314.92L670.55 311.02Z" fill="#fff" stroke="#4a4a4a" stroke-width="1.4375" stroke-linejoin="round"/><path d="M674.45 307.12L678.35 311.02L674.45 314.92Z" fill="#4a4a4a"/><path d="M420.27 456.77 L420.28 455.35 L420.3 453.93 L420.32 452.5 L420.33 451.08 L420.35 449.66 L420.38 448.24 L420.4 446.81 L420.42 445.39 L420.45 443.97 L420.47 442.54 L420.5 441.12 L420.53 439.7 L420.57 438.28 L420.6 436.85 L420.64 435.43 L420.67 434.01 L420.71 432.59 L420.76 431.16 L420.8 429.74 L420.85 428.32 L420.9 426.89 L420.96 425.47 L421.01 424.05 L421.07 422.62 L421.14 421.2 L421.21 419.78 L421.28 418.35 L421.35 416.93 L421.44 415.51 L421.52 414.08 L421.61 412.66 L421.71 411.24 L421.81 409.81 L421.92 408.39 L422.04 406.97 L422.16 405.54 L422.29 404.12 L422.43 402.69 L422.57 401.27 L422.73 399.84 L422.89 398.42 L423.06 397 L423.25 395.57 L423.44 394.15 L423.65 392.72 L423.87 391.3 L424.1 389.87 L424.35 388.45 L424.61 387.02 L424.88 385.59 L425.18 384.17 L425.49 382.74 L425.81 381.32 L426.16 379.89 L426.53 378.46 L426.93 377.04 L427.34 375.61 L427.78 374.18 L428.25 372.76 L428.74 371.33 L429.27 369.9 L429.82 368.47 L430.41 367.04 L431.04 365.62 L431.7 364.19 L432.4 362.76 L433.15 361.33 L433.94 359.9 L434.77 358.47 L435.66 357.04 L436.6 355.61 L437.59 354.18 L438.65 352.75 L442.18 348.48 L445.72 344.85 L449.25 341.68 L452.79 338.87 L456.32 336.35 L459.85 334.07 L463.39 331.97 L466.92 330.04 L470.46 328.25 L473.99 326.58 L477.52 325.01 L481.06 323.54 L484.59 322.15 L488.13 320.83 L491.66 319.58 L495.19 318.39 L498.73 317.26 L502.26 316.17 L505.8 315.13 L509.33 314.13 L512.86 313.17 L516.4 312.24 L519.93 311.35 L523.47 310.49 L527 309.66 L530.53 308.85 L534.07 308.07 L537.6 307.31 L541.14 306.58 L544.67 305.87 L548.2 305.17 L551.74 304.5 L555.27 303.84 L558.81 303.2 L562.34 302.58 L565.87 301.97 L569.41 301.37 L572.94 300.79 L576.48 300.22 L580.01 299.67 L583.54 299.12 L587.08 298.59 L590.61 298.07 L594.15 297.56 L597.68 297.06 L601.21 296.57 L604.75 296.09 L608.28 295.62 L611.82 295.15 L615.35 294.7 L618.88 294.25 L622.42 293.81 L625.95 293.38 L629.49 292.96 L633.02 292.54 L636.55 292.13 L640.09 291.73 L643.62 291.33 L647.16 290.94 L650.69 290.56 L654.22 290.18 L657.76 289.8 L661.29 289.43 L664.83 289.07 L668.36 288.71 L671.89 288.36 L674.45 288.11" fill="none" stroke="#555555" stroke-width="1.7" stroke-dasharray="5.6 5.4"/><path d="M420.27 456.77 L420.28 455.35 L420.3 453.93 L420.32 452.5 L420.33 451.08 L420.35 449.66 L420.38 448.24 L420.4 446.81 L420.42 445.39 L420.45 443.97 L420.47 442.55 L420.5 441.12 L420.53 439.7 L420.57 438.28 L420.6 436.85 L420.64 435.43 L420.67 434.01 L420.71 432.59 L420.76 431.16 L420.8 429.74 L420.85 428.32 L420.9 426.9 L420.96 425.47 L421.01 424.05 L421.07 422.63 L421.14 421.2 L421.21 419.78 L421.28 418.36 L421.35 416.94 L421.44 415.51 L421.52 414.09 L421.61 412.67 L421.71 411.25 L421.81 409.82 L421.92 408.4 L422.04 406.98 L422.16 405.56 L422.29 404.13 L422.43 402.71 L422.57 401.29 L422.73 399.86 L422.89 398.44 L423.06 397.02 L423.25 395.6 L423.44 394.17 L423.65 392.75 L423.87 391.33 L424.1 389.91 L424.35 388.48 L424.61 387.06 L424.88 385.64 L425.18 384.21 L425.49 382.79 L425.81 381.37 L426.16 379.95 L426.53 378.52 L426.93 377.1 L427.34 375.68 L427.78 374.26 L428.25 372.83 L428.74 371.41 L429.27 369.99 L429.82 368.57 L430.41 367.14 L431.04 365.72 L431.7 364.3 L432.4 362.87 L433.15 361.45 L433.94 360.03 L434.77 358.61 L435.66 357.18 L436.6 355.76 L437.59 354.34 L438.65 352.92 L442.18 348.68 L445.72 345.07 L449.25 341.93 L452.79 339.14 L456.32 336.64 L459.85 334.37 L463.39 332.3 L466.92 330.39 L470.46 328.61 L473.99 326.96 L477.52 325.41 L481.06 323.96 L484.59 322.58 L488.13 321.28 L491.66 320.05 L495.19 318.87 L498.73 317.75 L502.26 316.68 L505.8 315.65 L509.33 314.67 L512.86 313.72 L516.4 312.81 L519.93 311.93 L523.47 311.08 L527 310.26 L530.53 309.47 L534.07 308.7 L537.6 307.95 L541.14 307.23 L544.67 306.53 L548.2 305.85 L551.74 305.18 L555.27 304.54 L558.81 303.91 L562.34 303.29 L565.87 302.69 L569.41 302.11 L572.94 301.54 L576.48 300.98 L580.01 300.43 L583.54 299.9 L587.08 299.38 L590.61 298.87 L594.15 298.37 L597.68 297.88 L601.21 297.4 L604.75 296.92 L608.28 296.46 L611.82 296.01 L615.35 295.56 L618.88 295.12 L622.42 294.69 L625.95 294.27 L629.49 293.86 L633.02 293.45 L636.55 293.05 L640.09 292.65 L643.62 292.26 L647.16 291.88 L650.69 291.5 L654.22 291.13 L657.76 290.77 L661.29 290.41 L664.83 290.05 L668.36 289.7 L671.89 289.36 L674.45 289.11" fill="none" stroke="#9a78d6" stroke-width="1.7" stroke-dasharray="5.6 5.4"/><path d="M420.27 437.46 L420.28 436.28 L420.3 435.11 L420.32 433.93 L420.33 432.76 L420.35 431.58 L420.38 430.41 L420.4 429.23 L420.42 428.06 L420.45 426.88 L420.47 425.71 L420.5 424.53 L420.53 423.36 L420.57 422.18 L420.6 421.01 L420.64 419.83 L420.67 418.66 L420.71 417.48 L420.76 416.31 L420.8 415.13 L420.85 413.96 L420.9 412.78 L420.96 411.61 L421.01 410.43 L421.07 409.26 L421.14 408.08 L421.21 406.91 L421.28 405.73 L421.35 404.56 L421.44 403.38 L421.52 402.21 L421.61 401.03 L421.71 399.86 L421.81 398.68 L421.92 397.51 L422.04 396.33 L422.16 395.16 L422.29 393.98 L422.43 392.81 L422.57 391.63 L422.73 390.46 L422.89 389.28 L423.06 388.11 L423.25 386.93 L423.44 385.76 L423.65 384.58 L423.87 383.41 L424.1 382.23 L424.35 381.06 L424.61 379.88 L424.88 378.71 L425.18 377.53 L425.49 376.36 L425.81 375.18 L426.16 374.01 L426.53 372.83 L426.93 371.66 L427.34 370.48 L427.78 369.31 L428.25 368.13 L428.74 366.96 L429.27 365.78 L429.82 364.61 L430.41 363.43 L431.04 362.26 L431.7 361.08 L432.4 359.91 L433.15 358.73 L433.94 357.56 L434.77 356.38 L435.66 355.21 L436.6 354.03 L437.59 352.86 L438.65 351.68 L442.18 348.19 L445.72 345.2 L449.25 342.61 L452.79 340.31 L456.32 338.24 L459.85 336.37 L463.39 334.66 L466.92 333.08 L470.46 331.61 L473.99 330.25 L477.52 328.97 L481.06 327.77 L484.59 326.63 L488.13 325.56 L491.66 324.54 L495.19 323.57 L498.73 322.64 L502.26 321.76 L505.8 320.91 L509.33 320.1 L512.86 319.31 L516.4 318.56 L519.93 317.83 L523.47 317.13 L527 316.46 L530.53 315.8 L534.07 315.17 L537.6 314.55 L541.14 313.95 L544.67 313.37 L548.2 312.81 L551.74 312.26 L555.27 311.73 L558.81 311.21 L562.34 310.7 L565.87 310.21 L569.41 309.72 L572.94 309.25 L576.48 308.79 L580.01 308.34 L583.54 307.9 L587.08 307.47 L590.61 307.05 L594.15 306.63 L597.68 306.23 L601.21 305.83 L604.75 305.44 L608.28 305.06 L611.82 304.69 L615.35 304.32 L618.88 303.96 L622.42 303.6 L625.95 303.25 L629.49 302.91 L633.02 302.57 L636.55 302.24 L640.09 301.91 L643.62 301.59 L647.16 301.28 L650.69 300.96 L654.22 300.66 L657.76 300.36 L661.29 300.06 L664.83 299.76 L668.36 299.48 L671.89 299.19 L674.45 298.99" fill="none" stroke="#ee3038" stroke-width="1.7" stroke-dasharray="5.6 5.4"/><path d="M420.27 482.6 L420.28 481.15 L420.3 479.69 L420.32 478.24 L420.33 476.78 L420.35 475.33 L420.38 473.88 L420.4 472.42 L420.42 470.97 L420.45 469.51 L420.47 468.06 L420.5 466.6 L420.53 465.15 L420.57 463.69 L420.6 462.24 L420.64 460.79 L420.67 459.33 L420.71 457.88 L420.76 456.42 L420.8 454.97 L420.85 453.51 L420.9 452.06 L420.96 450.6 L421.01 449.15 L421.07 447.7 L421.14 446.24 L421.21 444.79 L421.28 443.33 L421.35 441.88 L421.44 440.42 L421.52 438.97 L421.61 437.51 L421.71 436.06 L421.81 434.61 L421.92 433.15 L422.04 431.7 L422.16 430.24 L422.29 428.79 L422.43 427.33 L422.57 425.88 L422.73 424.42 L422.89 422.97 L423.06 421.52 L423.25 420.06 L423.44 418.61 L423.65 417.15 L423.87 415.7 L424.1 414.24 L424.35 412.79 L424.61 411.33 L424.88 409.88 L425.18 408.43 L425.49 406.97 L425.81 405.52 L426.16 404.06 L426.53 402.61 L426.93 401.15 L427.34 399.7 L427.78 398.24 L428.25 396.79 L428.74 395.34 L429.27 393.88 L429.82 392.43 L430.41 390.97 L431.04 389.52 L431.7 388.06 L432.4 386.61 L433.15 385.15 L433.94 383.7 L434.77 382.25 L435.66 380.79 L436.6 379.34 L437.59 377.88 L438.65 376.43 L442.18 372.1 L445.72 368.41 L449.25 365.19 L452.79 362.34 L456.32 359.79 L459.85 357.47 L463.39 355.35 L466.92 353.4 L470.46 351.58 L473.99 349.89 L477.52 348.31 L481.06 346.82 L484.59 345.42 L488.13 344.09 L491.66 342.83 L495.19 341.63 L498.73 340.48 L502.26 339.38 L505.8 338.33 L509.33 337.33 L512.86 336.36 L516.4 335.42 L519.93 334.53 L523.47 333.66 L527 332.82 L530.53 332.01 L534.07 331.22 L537.6 330.46 L541.14 329.72 L544.67 329 L548.2 328.31 L551.74 327.63 L555.27 326.97 L558.81 326.32 L562.34 325.7 L565.87 325.08 L569.41 324.49 L572.94 323.9 L576.48 323.33 L580.01 322.78 L583.54 322.23 L587.08 321.7 L590.61 321.17 L594.15 320.66 L597.68 320.16 L601.21 319.67 L604.75 319.19 L608.28 318.71 L611.82 318.25 L615.35 317.79 L618.88 317.35 L622.42 316.91 L625.95 316.47 L629.49 316.05 L633.02 315.63 L636.55 315.22 L640.09 314.82 L643.62 314.42 L647.16 314.03 L650.69 313.64 L654.22 313.26 L657.76 312.89 L661.29 312.52 L664.83 312.16 L668.36 311.8 L671.89 311.45 L674.45 311.2" fill="none" stroke="#2f7ae6" stroke-width="1.7" stroke-dasharray="5.6 5.4"/><path d="M420.27 481.41 L420.28 479.98 L420.3 478.56 L420.32 477.14 L420.33 475.72 L420.35 474.29 L420.38 472.87 L420.4 471.45 L420.42 470.02 L420.45 468.6 L420.47 467.18 L420.5 465.76 L420.53 464.33 L420.57 462.91 L420.6 461.49 L420.64 460.07 L420.67 458.64 L420.71 457.22 L420.76 455.8 L420.8 454.37 L420.85 452.95 L420.9 451.53 L420.96 450.11 L421.01 448.68 L421.07 447.26 L421.14 445.84 L421.21 444.42 L421.28 442.99 L421.35 441.57 L421.44 440.15 L421.52 438.73 L421.61 437.3 L421.71 435.88 L421.81 434.46 L421.92 433.03 L422.04 431.61 L422.16 430.19 L422.29 428.77 L422.43 427.34 L422.57 425.92 L422.73 424.5 L422.89 423.08 L423.06 421.65 L423.25 420.23 L423.44 418.81 L423.65 417.38 L423.87 415.96 L424.1 414.54 L424.35 413.12 L424.61 411.69 L424.88 410.27 L425.18 408.85 L425.49 407.43 L425.81 406 L426.16 404.58 L426.53 403.16 L426.93 401.74 L427.34 400.31 L427.78 398.89 L428.25 397.47 L428.74 396.04 L429.27 394.62 L429.82 393.2 L430.41 391.78 L431.04 390.35 L431.7 388.93 L432.4 387.51 L433.15 386.09 L433.94 384.66 L434.77 383.24 L435.66 381.82 L436.6 380.39 L437.59 378.97 L438.65 377.55 L442.18 373.31 L445.72 369.7 L449.25 366.56 L452.79 363.77 L456.32 361.28 L459.85 359.01 L463.39 356.93 L466.92 355.02 L470.46 353.25 L473.99 351.6 L477.52 350.05 L481.06 348.59 L484.59 347.22 L488.13 345.92 L491.66 344.68 L495.19 343.51 L498.73 342.39 L502.26 341.31 L505.8 340.29 L509.33 339.3 L512.86 338.35 L516.4 337.44 L519.93 336.56 L523.47 335.71 L527 334.89 L530.53 334.1 L534.07 333.33 L537.6 332.59 L541.14 331.86 L544.67 331.16 L548.2 330.48 L551.74 329.82 L555.27 329.17 L558.81 328.54 L562.34 327.93 L565.87 327.33 L569.41 326.74 L572.94 326.17 L576.48 325.61 L580.01 325.07 L583.54 324.54 L587.08 324.01 L590.61 323.5 L594.15 323 L597.68 322.51 L601.21 322.03 L604.75 321.56 L608.28 321.1 L611.82 320.64 L615.35 320.2 L618.88 319.76 L622.42 319.33 L625.95 318.91 L629.49 318.49 L633.02 318.08 L636.55 317.68 L640.09 317.29 L643.62 316.9 L647.16 316.51 L650.69 316.14 L654.22 315.77 L657.76 315.4 L661.29 315.04 L664.83 314.68 L668.36 314.33 L671.89 313.99 L674.45 313.74" fill="none" stroke="#34ac6a" stroke-width="1.7" stroke-dasharray="5.6 5.4"/><rect x="612.72" y="399.72" width="5.15" height="5.15" fill="#fff" stroke="#a86ae0" stroke-width="0.9"/><rect x="615.3" y="399.72" width="2.58" height="5.15" fill="#a86ae0"/><text x="632" y="406.4" font-size="11.25" text-anchor="start">Soil+HA</text><circle cx="615.3" cy="416.6" r="2.94" fill="#fff" stroke="#ee3a40" stroke-width="0.9"/><path d="M615.3 413.66A2.94 2.94 0 0 1 615.3 419.54Z" fill="#ee3a40"/><text x="632" y="420.7" font-size="11.25" text-anchor="start">Soil+FA</text><path d="M611.9 433.84L615.3 427.96L618.7 433.84Z" fill="#fff" stroke="#1f6fe2" stroke-width="0.9" stroke-linejoin="round"/><path d="M615.3 427.96L618.7 433.84L615.3 433.84Z" fill="#1f6fe2"/><text x="632" y="435" font-size="11.25" text-anchor="start">HA</text><path d="M611.9 442.36L615.3 448.44L618.7 442.36Z" fill="#fff" stroke="#2aa866" stroke-width="0.9" stroke-linejoin="round"/><path d="M615.3 448.44L618.7 442.36L615.3 442.36Z" fill="#2aa866"/><text x="632" y="449.5" font-size="11.25" text-anchor="start">FA</text><path d="M615.3 456.11L618.89 459.7L615.3 463.29L611.71 459.7Z" fill="#fff" stroke="#4a4a4a" stroke-width="1.035" stroke-linejoin="round"/><path d="M615.3 456.11L618.89 459.7L615.3 463.29Z" fill="#4a4a4a"/><text x="632" y="463.8" font-size="11.25" text-anchor="start">Soil</text><text x="538.2" y="520.8" font-size="13.3" text-anchor="middle">t (min)</text><text transform="translate(382.6 379.1) rotate(-90)" font-size="13.3" text-anchor="middle">q<tspan font-size="9" dy="4.2">t</tspan><tspan dy="-4.2"> (μg/g)</tspan></text></svg>
</body></html>
